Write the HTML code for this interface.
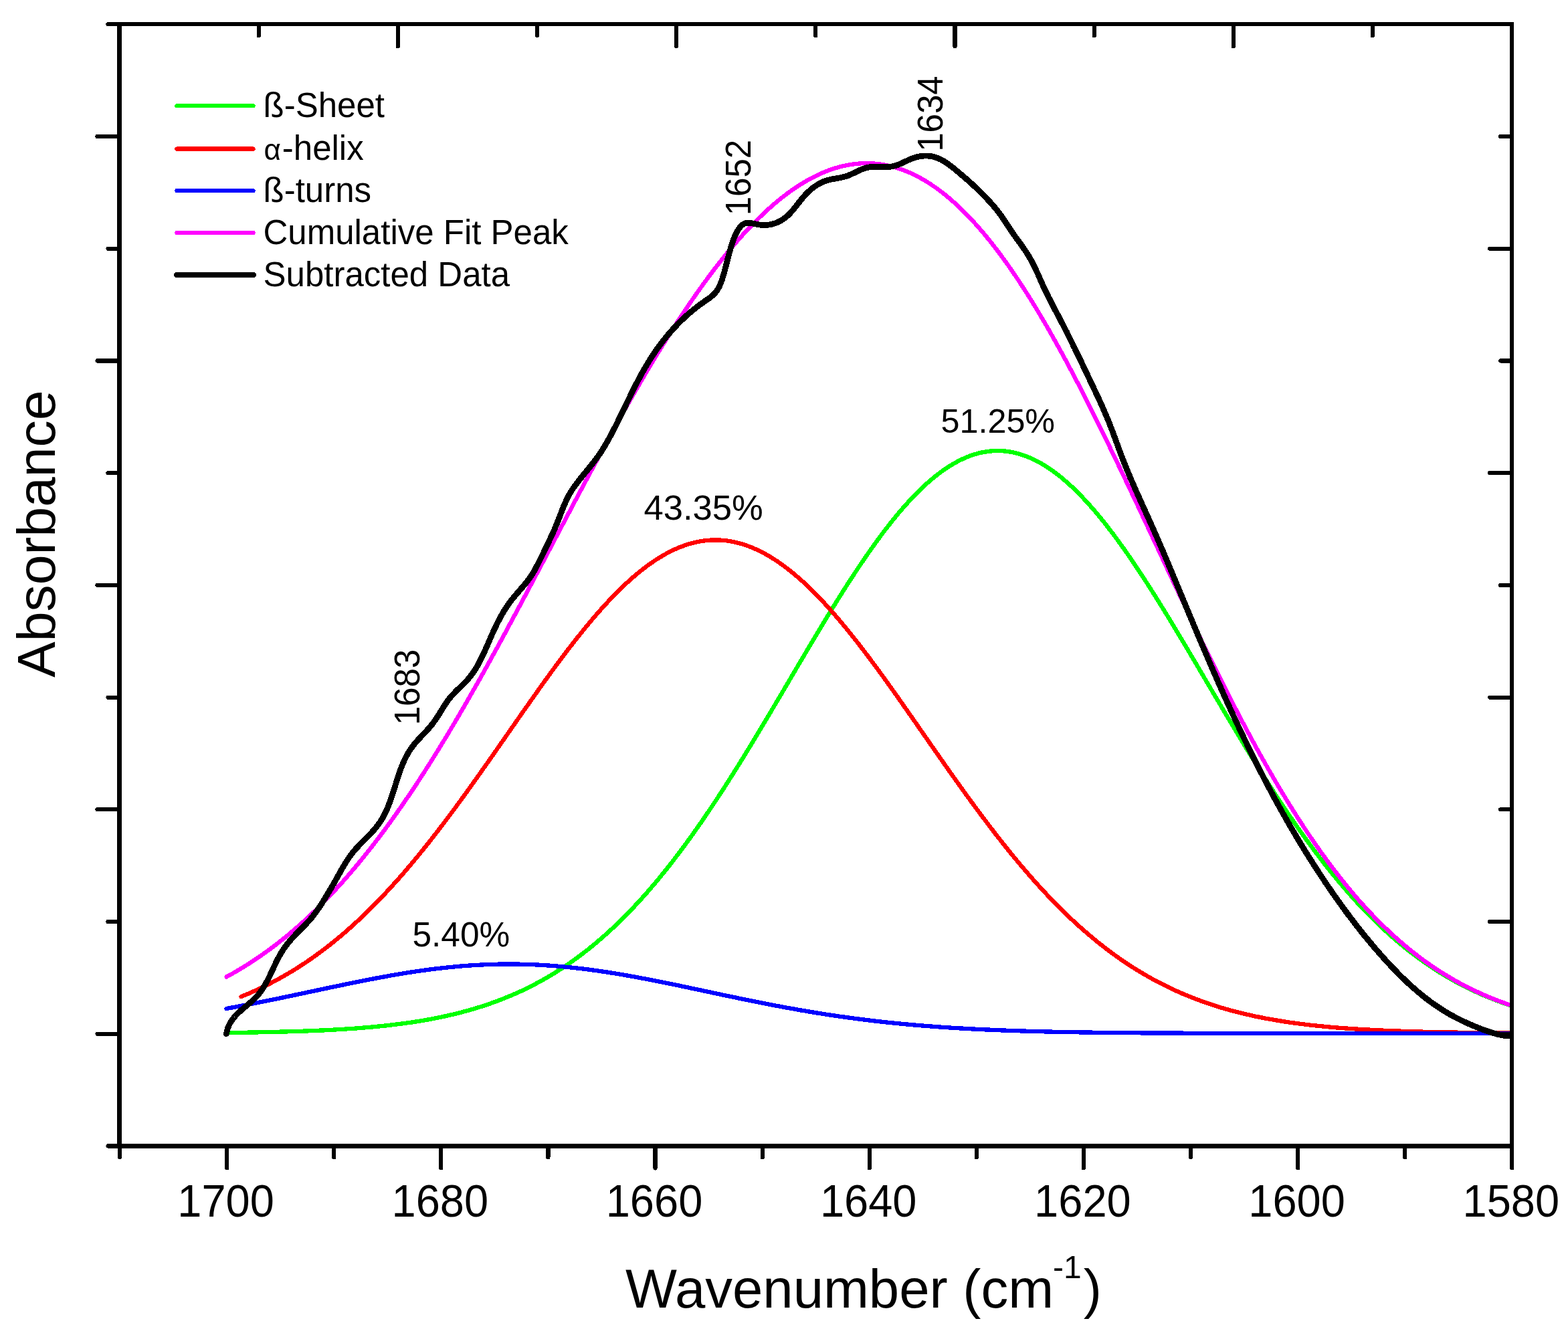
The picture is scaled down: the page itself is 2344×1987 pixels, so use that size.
<!DOCTYPE html>
<html lang="en">
<head>
<meta charset="utf-8">
<title>FTIR amide I band deconvolution</title>
<style>
html,body{margin:0;padding:0;background:#fff;}
body{width:2344px;height:1987px;overflow:hidden;}
svg{display:block;}
line,path,rect{shape-rendering:crispEdges;}
text{font-family:"Liberation Sans",sans-serif;fill:#000;}
.ax{stroke:#000;stroke-width:6.2;fill:none;stroke-linecap:butt;}
.tk{stroke:#000;stroke-width:6.2;fill:none;stroke-linecap:round;}
.c{fill:none;stroke-linejoin:round;stroke-linecap:round;}
</style>
</head>
<body>
<svg width="2344" height="1987" viewBox="0 0 2344 1987">
<rect x="0" y="0" width="2344" height="1987" fill="#fff"/>
<g class="c" id="curves">
<path id="cg" d="M340.0,1544.0 L344.0,1544.0 L348.0,1543.9 L352.0,1543.9 L356.0,1543.8 L360.0,1543.8 L364.0,1543.7 L368.0,1543.7 L372.0,1543.6 L376.0,1543.5 L380.0,1543.5 L384.0,1543.4 L388.0,1543.3 L392.0,1543.3 L396.0,1543.2 L400.0,1543.1 L404.0,1543.0 L408.0,1542.9 L412.0,1542.8 L416.0,1542.7 L420.0,1542.6 L424.0,1542.5 L428.0,1542.4 L432.0,1542.3 L436.0,1542.2 L440.0,1542.1 L444.0,1541.9 L448.0,1541.8 L452.0,1541.7 L456.0,1541.5 L460.0,1541.4 L464.0,1541.2 L468.0,1541.1 L472.0,1540.9 L476.0,1540.7 L480.0,1540.5 L484.0,1540.4 L488.0,1540.2 L492.0,1540.0 L496.0,1539.8 L500.0,1539.5 L504.0,1539.3 L508.0,1539.1 L512.0,1538.8 L516.0,1538.6 L520.0,1538.3 L524.0,1538.0 L528.0,1537.8 L532.0,1537.5 L536.0,1537.2 L540.0,1536.9 L544.0,1536.5 L548.0,1536.2 L552.0,1535.8 L556.0,1535.5 L560.0,1535.1 L564.0,1534.7 L568.0,1534.3 L572.0,1533.9 L576.0,1533.5 L580.0,1533.1 L584.0,1532.6 L588.0,1532.1 L592.0,1531.6 L596.0,1531.1 L600.0,1530.6 L604.0,1530.1 L608.0,1529.5 L612.0,1528.9 L616.0,1528.4 L620.0,1527.7 L624.0,1527.1 L628.0,1526.5 L632.0,1525.8 L636.0,1525.1 L640.0,1524.4 L644.0,1523.7 L648.0,1522.9 L652.0,1522.1 L656.0,1521.3 L660.0,1520.5 L664.0,1519.6 L668.0,1518.8 L672.0,1517.8 L676.0,1516.9 L680.0,1516.0 L684.0,1515.0 L688.0,1514.0 L692.0,1512.9 L696.0,1511.8 L700.0,1510.7 L704.0,1509.6 L708.0,1508.4 L712.0,1507.2 L716.0,1506.0 L720.0,1504.7 L724.0,1503.4 L728.0,1502.1 L732.0,1500.7 L736.0,1499.3 L740.0,1497.9 L744.0,1496.4 L748.0,1494.9 L752.0,1493.3 L756.0,1491.7 L760.0,1490.1 L764.0,1488.4 L768.0,1486.7 L772.0,1484.9 L776.0,1483.1 L780.0,1481.3 L784.0,1479.4 L788.0,1477.4 L792.0,1475.4 L796.0,1473.4 L800.0,1471.3 L804.0,1469.2 L808.0,1467.0 L812.0,1464.8 L816.0,1462.5 L820.0,1460.2 L824.0,1457.8 L828.0,1455.4 L832.0,1452.9 L836.0,1450.3 L840.0,1447.8 L844.0,1445.1 L848.0,1442.4 L852.0,1439.7 L856.0,1436.8 L860.0,1434.0 L864.0,1431.0 L868.0,1428.1 L872.0,1425.0 L876.0,1421.9 L880.0,1418.8 L884.0,1415.5 L888.0,1412.3 L892.0,1408.9 L896.0,1405.5 L900.0,1402.1 L904.0,1398.5 L908.0,1394.9 L912.0,1391.3 L916.0,1387.6 L920.0,1383.8 L924.0,1380.0 L928.0,1376.1 L932.0,1372.1 L936.0,1368.1 L940.0,1364.0 L944.0,1359.8 L948.0,1355.6 L952.0,1351.3 L956.0,1346.9 L960.0,1342.5 L964.0,1338.1 L968.0,1333.5 L972.0,1328.9 L976.0,1324.2 L980.0,1319.5 L984.0,1314.7 L988.0,1309.8 L992.0,1304.9 L996.0,1299.9 L1000.0,1294.9 L1004.0,1289.8 L1008.0,1284.6 L1012.0,1279.3 L1016.0,1274.1 L1020.0,1268.7 L1024.0,1263.3 L1028.0,1257.8 L1032.0,1252.3 L1036.0,1246.7 L1040.0,1241.0 L1044.0,1235.3 L1048.0,1229.6 L1052.0,1223.8 L1056.0,1217.9 L1060.0,1212.0 L1064.0,1206.0 L1068.0,1200.0 L1072.0,1194.0 L1076.0,1187.9 L1080.0,1181.7 L1084.0,1175.5 L1088.0,1169.3 L1092.0,1163.0 L1096.0,1156.6 L1100.0,1150.3 L1104.0,1143.9 L1108.0,1137.4 L1112.0,1131.0 L1116.0,1124.4 L1120.0,1117.9 L1124.0,1111.3 L1128.0,1104.7 L1132.0,1098.1 L1136.0,1091.4 L1140.0,1084.8 L1144.0,1078.1 L1148.0,1071.4 L1152.0,1064.6 L1156.0,1057.9 L1160.0,1051.1 L1164.0,1044.4 L1168.0,1037.6 L1172.0,1030.8 L1176.0,1024.0 L1180.0,1017.2 L1184.0,1010.4 L1188.0,1003.6 L1192.0,996.8 L1196.0,990.0 L1200.0,983.3 L1204.0,976.5 L1208.0,969.8 L1212.0,963.0 L1216.0,956.3 L1220.0,949.6 L1224.0,943.0 L1228.0,936.3 L1232.0,929.7 L1236.0,923.1 L1240.0,916.6 L1244.0,910.1 L1248.0,903.6 L1252.0,897.2 L1256.0,890.8 L1260.0,884.4 L1264.0,878.1 L1268.0,871.9 L1272.0,865.7 L1276.0,859.6 L1280.0,853.5 L1284.0,847.5 L1288.0,841.6 L1292.0,835.7 L1296.0,829.9 L1300.0,824.1 L1304.0,818.5 L1308.0,812.9 L1312.0,807.4 L1316.0,801.9 L1320.0,796.6 L1324.0,791.3 L1328.0,786.2 L1332.0,781.1 L1336.0,776.1 L1340.0,771.2 L1344.0,766.4 L1348.0,761.7 L1352.0,757.1 L1356.0,752.6 L1360.0,748.3 L1364.0,744.0 L1368.0,739.8 L1372.0,735.8 L1376.0,731.8 L1380.0,728.0 L1384.0,724.3 L1388.0,720.7 L1392.0,717.3 L1396.0,713.9 L1400.0,710.7 L1404.0,707.6 L1408.0,704.7 L1412.0,701.9 L1416.0,699.2 L1420.0,696.6 L1424.0,694.2 L1428.0,691.9 L1432.0,689.7 L1436.0,687.7 L1440.0,685.8 L1444.0,684.0 L1448.0,682.4 L1452.0,680.9 L1456.0,679.6 L1460.0,678.4 L1464.0,677.3 L1468.0,676.4 L1472.0,675.7 L1476.0,675.1 L1480.0,674.6 L1484.0,674.2 L1488.0,674.0 L1492.0,674.0 L1496.0,674.1 L1500.0,674.3 L1504.0,674.7 L1508.0,675.3 L1512.0,675.9 L1516.0,676.7 L1520.0,677.7 L1524.0,678.8 L1528.0,680.0 L1532.0,681.4 L1536.0,682.9 L1540.0,684.6 L1544.0,686.4 L1548.0,688.4 L1552.0,690.4 L1556.0,692.6 L1560.0,695.0 L1564.0,697.5 L1568.0,700.1 L1572.0,702.8 L1576.0,705.7 L1580.0,708.7 L1584.0,711.8 L1588.0,715.1 L1592.0,718.5 L1596.0,722.0 L1600.0,725.6 L1604.0,729.3 L1608.0,733.2 L1612.0,737.2 L1616.0,741.3 L1620.0,745.5 L1624.0,749.8 L1628.0,754.2 L1632.0,758.7 L1636.0,763.3 L1640.0,768.1 L1644.0,772.9 L1648.0,777.8 L1652.0,782.8 L1656.0,788.0 L1660.0,793.2 L1664.0,798.4 L1668.0,803.8 L1672.0,809.3 L1676.0,814.8 L1680.0,820.4 L1684.0,826.1 L1688.0,831.9 L1692.0,837.7 L1696.0,843.6 L1700.0,849.6 L1704.0,855.6 L1708.0,861.7 L1712.0,867.9 L1716.0,874.1 L1720.0,880.3 L1724.0,886.7 L1728.0,893.0 L1732.0,899.4 L1736.0,905.9 L1740.0,912.3 L1744.0,918.9 L1748.0,925.4 L1752.0,932.0 L1756.0,938.6 L1760.0,945.3 L1764.0,952.0 L1768.0,958.7 L1772.0,965.4 L1776.0,972.1 L1780.0,978.9 L1784.0,985.6 L1788.0,992.4 L1792.0,999.2 L1796.0,1006.0 L1800.0,1012.8 L1804.0,1019.6 L1808.0,1026.4 L1812.0,1033.2 L1816.0,1039.9 L1820.0,1046.7 L1824.0,1053.5 L1828.0,1060.2 L1832.0,1067.0 L1836.0,1073.7 L1840.0,1080.4 L1844.0,1087.1 L1848.0,1093.8 L1852.0,1100.4 L1856.0,1107.0 L1860.0,1113.6 L1864.0,1120.2 L1868.0,1126.7 L1872.0,1133.2 L1876.0,1139.7 L1880.0,1146.1 L1884.0,1152.5 L1888.0,1158.9 L1892.0,1165.2 L1896.0,1171.5 L1900.0,1177.7 L1904.0,1183.9 L1908.0,1190.0 L1912.0,1196.1 L1916.0,1202.1 L1920.0,1208.1 L1924.0,1214.1 L1928.0,1220.0 L1932.0,1225.8 L1936.0,1231.6 L1940.0,1237.4 L1944.0,1243.0 L1948.0,1248.7 L1952.0,1254.2 L1956.0,1259.7 L1960.0,1265.2 L1964.0,1270.6 L1968.0,1275.9 L1972.0,1281.2 L1976.0,1286.4 L1980.0,1291.6 L1984.0,1296.6 L1988.0,1301.7 L1992.0,1306.6 L1996.0,1311.5 L2000.0,1316.4 L2004.0,1321.2 L2008.0,1325.9 L2012.0,1330.5 L2016.0,1335.1 L2020.0,1339.6 L2024.0,1344.1 L2028.0,1348.5 L2032.0,1352.8 L2036.0,1357.1 L2040.0,1361.3 L2044.0,1365.4 L2048.0,1369.5 L2052.0,1373.5 L2056.0,1377.4 L2060.0,1381.3 L2064.0,1385.1 L2068.0,1388.9 L2072.0,1392.6 L2076.0,1396.2 L2080.0,1399.8 L2084.0,1403.3 L2088.0,1406.7 L2092.0,1410.1 L2096.0,1413.4 L2100.0,1416.7 L2104.0,1419.9 L2108.0,1423.0 L2112.0,1426.1 L2116.0,1429.1 L2120.0,1432.1 L2124.0,1435.0 L2128.0,1437.8 L2132.0,1440.6 L2136.0,1443.4 L2140.0,1446.0 L2144.0,1448.7 L2148.0,1451.2 L2152.0,1453.8 L2156.0,1456.2 L2160.0,1458.6 L2164.0,1461.0 L2168.0,1463.3 L2172.0,1465.6 L2176.0,1467.8 L2180.0,1469.9 L2184.0,1472.1 L2188.0,1474.1 L2192.0,1476.1 L2196.0,1478.1 L2200.0,1480.0 L2204.0,1481.9 L2208.0,1483.7 L2212.0,1485.5 L2216.0,1487.3 L2220.0,1489.0 L2224.0,1490.7 L2228.0,1492.3 L2232.0,1493.9 L2236.0,1495.4 L2240.0,1496.9 L2244.0,1498.4 L2248.0,1499.8 L2252.0,1501.2 L2255.8,1502.5" stroke="#00ff00" stroke-width="6.3"/>
<path id="cr" d="M360.4,1490.2 L364.4,1488.5 L368.4,1486.9 L372.4,1485.2 L376.4,1483.4 L380.4,1481.7 L384.4,1479.8 L388.4,1478.0 L392.4,1476.1 L396.4,1474.1 L400.4,1472.1 L404.4,1470.1 L408.4,1468.0 L412.4,1465.9 L416.4,1463.7 L420.4,1461.5 L424.4,1459.2 L428.4,1456.9 L432.4,1454.5 L436.4,1452.1 L440.4,1449.7 L444.4,1447.2 L448.4,1444.6 L452.4,1442.0 L456.4,1439.4 L460.4,1436.7 L464.4,1433.9 L468.4,1431.1 L472.4,1428.2 L476.4,1425.3 L480.4,1422.4 L484.4,1419.4 L488.4,1416.3 L492.4,1413.2 L496.4,1410.0 L500.4,1406.8 L504.4,1403.5 L508.4,1400.2 L512.4,1396.8 L516.4,1393.3 L520.4,1389.8 L524.4,1386.3 L528.4,1382.7 L532.4,1379.0 L536.4,1375.3 L540.4,1371.6 L544.4,1367.7 L548.4,1363.9 L552.4,1359.9 L556.4,1355.9 L560.4,1351.9 L564.4,1347.8 L568.4,1343.7 L572.4,1339.5 L576.4,1335.2 L580.4,1330.9 L584.4,1326.5 L588.4,1322.1 L592.4,1317.7 L596.4,1313.2 L600.4,1308.6 L604.4,1304.0 L608.4,1299.3 L612.4,1294.6 L616.4,1289.9 L620.4,1285.1 L624.4,1280.2 L628.4,1275.3 L632.4,1270.4 L636.4,1265.4 L640.4,1260.4 L644.4,1255.3 L648.4,1250.2 L652.4,1245.0 L656.4,1239.8 L660.4,1234.6 L664.4,1229.3 L668.4,1224.0 L672.4,1218.7 L676.4,1213.3 L680.4,1207.9 L684.4,1202.4 L688.4,1197.0 L692.4,1191.5 L696.4,1185.9 L700.4,1180.4 L704.4,1174.8 L708.4,1169.2 L712.4,1163.6 L716.4,1157.9 L720.4,1152.3 L724.4,1146.6 L728.4,1140.9 L732.4,1135.2 L736.4,1129.5 L740.4,1123.8 L744.4,1118.0 L748.4,1112.3 L752.4,1106.5 L756.4,1100.8 L760.4,1095.0 L764.4,1089.3 L768.4,1083.5 L772.4,1077.8 L776.4,1072.0 L780.4,1066.3 L784.4,1060.6 L788.4,1054.9 L792.4,1049.2 L796.4,1043.5 L800.4,1037.9 L804.4,1032.2 L808.4,1026.6 L812.4,1021.0 L816.4,1015.5 L820.4,1009.9 L824.4,1004.4 L828.4,999.0 L832.4,993.5 L836.4,988.2 L840.4,982.8 L844.4,977.5 L848.4,972.2 L852.4,967.0 L856.4,961.9 L860.4,956.7 L864.4,951.7 L868.4,946.7 L872.4,941.7 L876.4,936.8 L880.4,932.0 L884.4,927.2 L888.4,922.5 L892.4,917.9 L896.4,913.3 L900.4,908.9 L904.4,904.4 L908.4,900.1 L912.4,895.9 L916.4,891.7 L920.4,887.6 L924.4,883.6 L928.4,879.6 L932.4,875.8 L936.4,872.0 L940.4,868.4 L944.4,864.8 L948.4,861.3 L952.4,858.0 L956.4,854.7 L960.4,851.5 L964.4,848.4 L968.4,845.4 L972.4,842.6 L976.4,839.8 L980.4,837.1 L984.4,834.6 L988.4,832.1 L992.4,829.8 L996.4,827.5 L1000.4,825.4 L1004.4,823.4 L1008.4,821.5 L1012.4,819.8 L1016.4,818.1 L1020.4,816.6 L1024.4,815.1 L1028.4,813.8 L1032.4,812.7 L1036.4,811.6 L1040.4,810.6 L1044.4,809.8 L1048.4,809.1 L1052.4,808.5 L1056.4,808.1 L1060.4,807.7 L1064.4,807.5 L1068.4,807.4 L1072.4,807.4 L1076.4,807.6 L1080.4,807.8 L1084.4,808.2 L1088.4,808.7 L1092.4,809.4 L1096.4,810.1 L1100.4,811.0 L1104.4,812.0 L1108.4,813.1 L1112.4,814.4 L1116.4,815.7 L1120.4,817.2 L1124.4,818.8 L1128.4,820.5 L1132.4,822.3 L1136.4,824.2 L1140.4,826.3 L1144.4,828.4 L1148.4,830.7 L1152.4,833.1 L1156.4,835.6 L1160.4,838.2 L1164.4,840.9 L1168.4,843.7 L1172.4,846.6 L1176.4,849.6 L1180.4,852.8 L1184.4,856.0 L1188.4,859.3 L1192.4,862.7 L1196.4,866.2 L1200.4,869.8 L1204.4,873.5 L1208.4,877.3 L1212.4,881.2 L1216.4,885.2 L1220.4,889.2 L1224.4,893.3 L1228.4,897.5 L1232.4,901.8 L1236.4,906.2 L1240.4,910.6 L1244.4,915.2 L1248.4,919.8 L1252.4,924.4 L1256.4,929.1 L1260.4,933.9 L1264.4,938.8 L1268.4,943.7 L1272.4,948.7 L1276.4,953.7 L1280.4,958.8 L1284.4,963.9 L1288.4,969.1 L1292.4,974.3 L1296.4,979.6 L1300.4,984.9 L1304.4,990.3 L1308.4,995.7 L1312.4,1001.1 L1316.4,1006.6 L1320.4,1012.1 L1324.4,1017.7 L1328.4,1023.2 L1332.4,1028.8 L1336.4,1034.5 L1340.4,1040.1 L1344.4,1045.8 L1348.4,1051.5 L1352.4,1057.2 L1356.4,1062.9 L1360.4,1068.6 L1364.4,1074.3 L1368.4,1080.1 L1372.4,1085.8 L1376.4,1091.6 L1380.4,1097.3 L1384.4,1103.1 L1388.4,1108.8 L1392.4,1114.6 L1396.4,1120.3 L1400.4,1126.0 L1404.4,1131.8 L1408.4,1137.5 L1412.4,1143.2 L1416.4,1148.9 L1420.4,1154.6 L1424.4,1160.2 L1428.4,1165.8 L1432.4,1171.5 L1436.4,1177.0 L1440.4,1182.6 L1444.4,1188.2 L1448.4,1193.7 L1452.4,1199.2 L1456.4,1204.6 L1460.4,1210.1 L1464.4,1215.4 L1468.4,1220.8 L1472.4,1226.1 L1476.4,1231.4 L1480.4,1236.7 L1484.4,1241.9 L1488.4,1247.1 L1492.4,1252.2 L1496.4,1257.3 L1500.4,1262.4 L1504.4,1267.4 L1508.4,1272.4 L1512.4,1277.3 L1516.4,1282.2 L1520.4,1287.0 L1524.4,1291.8 L1528.4,1296.5 L1532.4,1301.2 L1536.4,1305.8 L1540.4,1310.4 L1544.4,1315.0 L1548.4,1319.5 L1552.4,1323.9 L1556.4,1328.3 L1560.4,1332.6 L1564.4,1336.9 L1568.4,1341.1 L1572.4,1345.3 L1576.4,1349.4 L1580.4,1353.5 L1584.4,1357.5 L1588.4,1361.5 L1592.4,1365.4 L1596.4,1369.3 L1600.4,1373.1 L1604.4,1376.8 L1608.4,1380.5 L1612.4,1384.1 L1616.4,1387.7 L1620.4,1391.2 L1624.4,1394.7 L1628.4,1398.1 L1632.4,1401.5 L1636.4,1404.8 L1640.4,1408.1 L1644.4,1411.3 L1648.4,1414.4 L1652.4,1417.5 L1656.4,1420.6 L1660.4,1423.6 L1664.4,1426.5 L1668.4,1429.4 L1672.4,1432.2 L1676.4,1435.0 L1680.4,1437.7 L1684.4,1440.4 L1688.4,1443.1 L1692.4,1445.6 L1696.4,1448.2 L1700.4,1450.7 L1704.4,1453.1 L1708.4,1455.5 L1712.4,1457.8 L1716.4,1460.1 L1720.4,1462.4 L1724.4,1464.6 L1728.4,1466.7 L1732.4,1468.8 L1736.4,1470.9 L1740.4,1472.9 L1744.4,1474.9 L1748.4,1476.8 L1752.4,1478.7 L1756.4,1480.6 L1760.4,1482.4 L1764.4,1484.1 L1768.4,1485.9 L1772.4,1487.6 L1776.4,1489.2 L1780.4,1490.8 L1784.4,1492.4 L1788.4,1493.9 L1792.4,1495.4 L1796.4,1496.9 L1800.4,1498.3 L1804.4,1499.7 L1808.4,1501.1 L1812.4,1502.4 L1816.4,1503.7 L1820.4,1504.9 L1824.4,1506.2 L1828.4,1507.4 L1832.4,1508.5 L1836.4,1509.7 L1840.4,1510.8 L1844.4,1511.8 L1848.4,1512.9 L1852.4,1513.9 L1856.4,1514.9 L1860.4,1515.9 L1864.4,1516.8 L1868.4,1517.7 L1872.4,1518.6 L1876.4,1519.5 L1880.4,1520.3 L1884.4,1521.1 L1888.4,1521.9 L1892.4,1522.7 L1896.4,1523.4 L1900.4,1524.1 L1904.4,1524.8 L1908.4,1525.5 L1912.4,1526.2 L1916.4,1526.8 L1920.4,1527.5 L1924.4,1528.1 L1928.4,1528.7 L1932.4,1529.2 L1936.4,1529.8 L1940.4,1530.3 L1944.4,1530.8 L1948.4,1531.3 L1952.4,1531.8 L1956.4,1532.3 L1960.4,1532.8 L1964.4,1533.2 L1968.4,1533.6 L1972.4,1534.0 L1976.4,1534.4 L1980.4,1534.8 L1984.4,1535.2 L1988.4,1535.6 L1992.4,1535.9 L1996.4,1536.3 L2000.4,1536.6 L2004.4,1536.9 L2008.4,1537.2 L2012.4,1537.5 L2016.4,1537.8 L2020.4,1538.1 L2024.4,1538.3 L2028.4,1538.6 L2032.4,1538.8 L2036.4,1539.1 L2040.4,1539.3 L2044.4,1539.5 L2048.4,1539.7 L2052.4,1539.9 L2056.4,1540.1 L2060.4,1540.3 L2064.4,1540.5 L2068.4,1540.7 L2072.4,1540.9 L2076.4,1541.0 L2080.4,1541.2 L2084.4,1541.4 L2088.4,1541.5 L2092.4,1541.6 L2096.4,1541.8 L2100.4,1541.9 L2104.4,1542.0 L2108.4,1542.2 L2112.4,1542.3 L2116.4,1542.4 L2120.4,1542.5 L2124.4,1542.6 L2128.4,1542.7 L2132.4,1542.8 L2136.4,1542.9 L2140.4,1543.0 L2144.4,1543.1 L2148.4,1543.2 L2152.4,1543.2 L2156.4,1543.3 L2160.4,1543.4 L2164.4,1543.4 L2168.4,1543.5 L2172.4,1543.6 L2176.4,1543.6 L2180.4,1543.7 L2184.4,1543.8 L2188.4,1543.8 L2192.4,1543.9 L2196.4,1543.9 L2200.4,1544.0 L2204.4,1544.0 L2208.4,1544.0 L2212.4,1544.1 L2216.4,1544.1 L2220.4,1544.2 L2224.4,1544.2 L2228.4,1544.2 L2232.4,1544.3 L2236.4,1544.3 L2240.4,1544.3 L2244.4,1544.4 L2248.4,1544.4 L2252.4,1544.4 L2255.8,1544.4" stroke="#ff0000" stroke-width="6.3"/>
<path id="cb" d="M338.6,1508.0 L342.6,1507.2 L346.6,1506.5 L350.6,1505.8 L354.6,1505.0 L358.6,1504.3 L362.6,1503.5 L366.6,1502.8 L370.6,1502.0 L374.6,1501.2 L378.6,1500.4 L382.6,1499.6 L386.6,1498.8 L390.6,1498.0 L394.6,1497.2 L398.6,1496.4 L402.6,1495.6 L406.6,1494.8 L410.6,1494.0 L414.6,1493.2 L418.6,1492.3 L422.6,1491.5 L426.6,1490.7 L430.6,1489.8 L434.6,1489.0 L438.6,1488.1 L442.6,1487.3 L446.6,1486.4 L450.6,1485.6 L454.6,1484.7 L458.6,1483.9 L462.6,1483.0 L466.6,1482.2 L470.6,1481.3 L474.6,1480.5 L478.6,1479.6 L482.6,1478.8 L486.6,1477.9 L490.6,1477.1 L494.6,1476.2 L498.6,1475.4 L502.6,1474.6 L506.6,1473.7 L510.6,1472.9 L514.6,1472.1 L518.6,1471.2 L522.6,1470.4 L526.6,1469.6 L530.6,1468.8 L534.6,1468.0 L538.6,1467.2 L542.6,1466.4 L546.6,1465.6 L550.6,1464.8 L554.6,1464.0 L558.6,1463.3 L562.6,1462.5 L566.6,1461.8 L570.6,1461.0 L574.6,1460.3 L578.6,1459.6 L582.6,1458.8 L586.6,1458.1 L590.6,1457.4 L594.6,1456.8 L598.6,1456.1 L602.6,1455.4 L606.6,1454.8 L610.6,1454.1 L614.6,1453.5 L618.6,1452.9 L622.6,1452.3 L626.6,1451.7 L630.6,1451.2 L634.6,1450.6 L638.6,1450.1 L642.6,1449.5 L646.6,1449.0 L650.6,1448.5 L654.6,1448.0 L658.6,1447.6 L662.6,1447.1 L666.6,1446.7 L670.6,1446.3 L674.6,1445.9 L678.6,1445.5 L682.6,1445.1 L686.6,1444.7 L690.6,1444.4 L694.6,1444.1 L698.6,1443.8 L702.6,1443.5 L706.6,1443.2 L710.6,1443.0 L714.6,1442.8 L718.6,1442.6 L722.6,1442.4 L726.6,1442.2 L730.6,1442.0 L734.6,1441.9 L738.6,1441.8 L742.6,1441.7 L746.6,1441.6 L750.6,1441.6 L754.6,1441.5 L758.6,1441.5 L762.6,1441.5 L766.6,1441.5 L770.6,1441.6 L774.6,1441.6 L778.6,1441.7 L782.6,1441.8 L786.6,1441.9 L790.6,1442.0 L794.6,1442.2 L798.6,1442.3 L802.6,1442.5 L806.6,1442.7 L810.6,1443.0 L814.6,1443.2 L818.6,1443.5 L822.6,1443.7 L826.6,1444.0 L830.6,1444.3 L834.6,1444.7 L838.6,1445.0 L842.6,1445.4 L846.6,1445.8 L850.6,1446.2 L854.6,1446.6 L858.6,1447.0 L862.6,1447.5 L866.6,1447.9 L870.6,1448.4 L874.6,1448.9 L878.6,1449.4 L882.6,1450.0 L886.6,1450.5 L890.6,1451.0 L894.6,1451.6 L898.6,1452.2 L902.6,1452.8 L906.6,1453.4 L910.6,1454.0 L914.6,1454.7 L918.6,1455.3 L922.6,1456.0 L926.6,1456.6 L930.6,1457.3 L934.6,1458.0 L938.6,1458.7 L942.6,1459.4 L946.6,1460.1 L950.6,1460.9 L954.6,1461.6 L958.6,1462.4 L962.6,1463.1 L966.6,1463.9 L970.6,1464.6 L974.6,1465.4 L978.6,1466.2 L982.6,1467.0 L986.6,1467.8 L990.6,1468.6 L994.6,1469.4 L998.6,1470.2 L1002.6,1471.1 L1006.6,1471.9 L1010.6,1472.7 L1014.6,1473.5 L1018.6,1474.4 L1022.6,1475.2 L1026.6,1476.1 L1030.6,1476.9 L1034.6,1477.8 L1038.6,1478.6 L1042.6,1479.5 L1046.6,1480.3 L1050.6,1481.2 L1054.6,1482.0 L1058.6,1482.9 L1062.6,1483.7 L1066.6,1484.6 L1070.6,1485.4 L1074.6,1486.3 L1078.6,1487.1 L1082.6,1488.0 L1086.6,1488.8 L1090.6,1489.6 L1094.6,1490.5 L1098.6,1491.3 L1102.6,1492.2 L1106.6,1493.0 L1110.6,1493.8 L1114.6,1494.6 L1118.6,1495.5 L1122.6,1496.3 L1126.6,1497.1 L1130.6,1497.9 L1134.6,1498.7 L1138.6,1499.5 L1142.6,1500.3 L1146.6,1501.1 L1150.6,1501.8 L1154.6,1502.6 L1158.6,1503.4 L1162.6,1504.1 L1166.6,1504.9 L1170.6,1505.6 L1174.6,1506.4 L1178.6,1507.1 L1182.6,1507.8 L1186.6,1508.5 L1190.6,1509.3 L1194.6,1510.0 L1198.6,1510.7 L1202.6,1511.3 L1206.6,1512.0 L1210.6,1512.7 L1214.6,1513.4 L1218.6,1514.0 L1222.6,1514.7 L1226.6,1515.3 L1230.6,1515.9 L1234.6,1516.6 L1238.6,1517.2 L1242.6,1517.8 L1246.6,1518.4 L1250.6,1519.0 L1254.6,1519.6 L1258.6,1520.1 L1262.6,1520.7 L1266.6,1521.3 L1270.6,1521.8 L1274.6,1522.3 L1278.6,1522.9 L1282.6,1523.4 L1286.6,1523.9 L1290.6,1524.4 L1294.6,1524.9 L1298.6,1525.4 L1302.6,1525.9 L1306.6,1526.4 L1310.6,1526.8 L1314.6,1527.3 L1318.6,1527.7 L1322.6,1528.2 L1326.6,1528.6 L1330.6,1529.0 L1334.6,1529.4 L1338.6,1529.8 L1342.6,1530.2 L1346.6,1530.6 L1350.6,1531.0 L1354.6,1531.4 L1358.6,1531.7 L1362.6,1532.1 L1366.6,1532.5 L1370.6,1532.8 L1374.6,1533.1 L1378.6,1533.5 L1382.6,1533.8 L1386.6,1534.1 L1390.6,1534.4 L1394.6,1534.7 L1398.6,1535.0 L1402.6,1535.3 L1406.6,1535.6 L1410.6,1535.9 L1414.6,1536.1 L1418.6,1536.4 L1422.6,1536.7 L1426.6,1536.9 L1430.6,1537.1 L1434.6,1537.4 L1438.6,1537.6 L1442.6,1537.8 L1446.6,1538.1 L1450.6,1538.3 L1454.6,1538.5 L1458.6,1538.7 L1462.6,1538.9 L1466.6,1539.1 L1470.6,1539.3 L1474.6,1539.5 L1478.6,1539.6 L1482.6,1539.8 L1486.6,1540.0 L1490.6,1540.1 L1494.6,1540.3 L1498.6,1540.5 L1502.6,1540.6 L1506.6,1540.8 L1510.6,1540.9 L1514.6,1541.0 L1518.6,1541.2 L1522.6,1541.3 L1526.6,1541.4 L1530.6,1541.5 L1534.6,1541.7 L1538.6,1541.8 L1542.6,1541.9 L1546.6,1542.0 L1550.6,1542.1 L1554.6,1542.2 L1558.6,1542.3 L1562.6,1542.4 L1566.6,1542.5 L1570.6,1542.6 L1574.6,1542.7 L1578.6,1542.8 L1582.6,1542.8 L1586.6,1542.9 L1590.6,1543.0 L1594.6,1543.1 L1598.6,1543.1 L1602.6,1543.2 L1606.6,1543.3 L1610.6,1543.3 L1614.6,1543.4 L1618.6,1543.5 L1622.6,1543.5 L1626.6,1543.6 L1630.6,1543.6 L1634.6,1543.7 L1638.6,1543.7 L1642.6,1543.8 L1646.6,1543.8 L1650.6,1543.9 L1654.6,1543.9 L1658.6,1544.0 L1662.6,1544.0 L1666.6,1544.0 L1670.6,1544.1 L1674.6,1544.1 L1678.6,1544.1 L1682.6,1544.2 L1686.6,1544.2 L1690.6,1544.2 L1694.6,1544.3 L1698.6,1544.3 L1702.6,1544.3 L1706.6,1544.4 L1710.6,1544.4 L1714.6,1544.4 L1718.6,1544.4 L1722.6,1544.4 L1726.6,1544.5 L1730.6,1544.5 L1734.6,1544.5 L1738.6,1544.5 L1742.6,1544.5 L1746.6,1544.6 L1750.6,1544.6 L1754.6,1544.6 L1758.6,1544.6 L1762.6,1544.6 L1766.6,1544.6 L1770.6,1544.7 L1774.6,1544.7 L1778.6,1544.7 L1782.6,1544.7 L1786.6,1544.7 L1790.6,1544.7 L1794.6,1544.7 L1798.6,1544.7 L1802.6,1544.8 L1806.6,1544.8 L1810.6,1544.8 L1814.6,1544.8 L1818.6,1544.8 L1822.6,1544.8 L1826.6,1544.8 L1830.6,1544.8 L1834.6,1544.8 L1838.6,1544.8 L1842.6,1544.8 L1846.6,1544.8 L1850.6,1544.8 L1854.6,1544.8 L1858.6,1544.9 L1862.6,1544.9 L1866.6,1544.9 L1870.6,1544.9 L1874.6,1544.9 L1878.6,1544.9 L1882.6,1544.9 L1886.6,1544.9 L1890.6,1544.9 L1894.6,1544.9 L1898.6,1544.9 L1902.6,1544.9 L1906.6,1544.9 L1910.6,1544.9 L1914.6,1544.9 L1918.6,1544.9 L1922.6,1544.9 L1926.6,1544.9 L1930.6,1544.9 L1934.6,1544.9 L1938.6,1544.9 L1942.6,1544.9 L1946.6,1544.9 L1950.6,1544.9 L1954.6,1544.9 L1958.6,1544.9 L1962.6,1544.9 L1966.6,1544.9 L1970.6,1544.9 L1974.6,1544.9 L1978.6,1544.9 L1982.6,1544.9 L1986.6,1544.9 L1990.6,1544.9 L1994.6,1544.9 L1998.6,1544.9 L2002.6,1544.9 L2006.6,1544.9 L2010.6,1544.9 L2014.6,1544.9 L2018.6,1544.9 L2022.6,1544.9 L2026.6,1544.9 L2030.6,1544.9 L2034.6,1544.9 L2038.6,1544.9 L2042.6,1544.9 L2046.6,1544.9 L2050.6,1544.9 L2054.6,1544.9 L2058.6,1544.9 L2062.6,1544.9 L2066.6,1544.9 L2070.6,1544.9 L2074.6,1544.9 L2078.6,1544.9 L2082.6,1544.9 L2086.6,1544.9 L2090.6,1544.9 L2094.6,1544.9 L2098.6,1544.9 L2102.6,1544.9 L2106.6,1544.9 L2110.6,1544.9 L2114.6,1544.9 L2118.6,1544.9 L2122.6,1544.9 L2126.6,1544.9 L2130.6,1544.9 L2134.6,1544.9 L2138.6,1544.9 L2142.6,1544.9 L2146.6,1544.9 L2150.6,1544.9 L2154.6,1544.9 L2158.6,1544.9 L2162.6,1544.9 L2166.6,1544.9 L2170.6,1544.9 L2174.6,1544.9 L2178.6,1544.9 L2182.6,1544.9 L2186.6,1544.9 L2190.6,1544.9 L2194.6,1544.9 L2198.6,1544.9 L2202.6,1544.9 L2206.6,1544.9 L2210.6,1544.9 L2214.6,1544.9 L2218.6,1544.9 L2222.6,1544.9 L2226.6,1544.9 L2230.6,1544.9 L2234.6,1544.9 L2238.6,1544.9 L2242.6,1544.9 L2246.6,1544.9 L2250.6,1544.9 L2254.6,1544.9 L2255.8,1544.9" stroke="#0000ff" stroke-width="6.3"/>
<path id="cm" d="M338.6,1460.5 L342.6,1458.3 L346.6,1456.1 L350.6,1453.8 L354.6,1451.4 L358.6,1449.1 L362.6,1446.7 L366.6,1444.2 L370.6,1441.7 L374.6,1439.1 L378.6,1436.5 L382.6,1433.8 L386.6,1431.1 L390.6,1428.4 L394.6,1425.5 L398.6,1422.7 L402.6,1419.8 L406.6,1416.8 L410.6,1413.8 L414.6,1410.7 L418.6,1407.6 L422.6,1404.4 L426.6,1401.2 L430.6,1397.9 L434.6,1394.5 L438.6,1391.1 L442.6,1387.7 L446.6,1384.2 L450.6,1380.6 L454.6,1377.0 L458.6,1373.3 L462.6,1369.6 L466.6,1365.8 L470.6,1361.9 L474.6,1358.0 L478.6,1354.1 L482.6,1350.0 L486.6,1345.9 L490.6,1341.8 L494.6,1337.6 L498.6,1333.3 L502.6,1329.0 L506.6,1324.6 L510.6,1320.2 L514.6,1315.7 L518.6,1311.2 L522.6,1306.5 L526.6,1301.9 L530.6,1297.1 L534.6,1292.3 L538.6,1287.5 L542.6,1282.6 L546.6,1277.6 L550.6,1272.6 L554.6,1267.5 L558.6,1262.3 L562.6,1257.1 L566.6,1251.9 L570.6,1246.5 L574.6,1241.2 L578.6,1235.7 L582.6,1230.2 L586.6,1224.7 L590.6,1219.0 L594.6,1213.4 L598.6,1207.7 L602.6,1201.9 L606.6,1196.0 L610.6,1190.2 L614.6,1184.2 L618.6,1178.2 L622.6,1172.2 L626.6,1166.1 L630.6,1159.9 L634.6,1153.7 L638.6,1147.4 L642.6,1141.1 L646.6,1134.8 L650.6,1128.4 L654.6,1121.9 L658.6,1115.4 L662.6,1108.8 L666.6,1102.3 L670.6,1095.6 L674.6,1088.9 L678.6,1082.2 L682.6,1075.4 L686.6,1068.6 L690.6,1061.7 L694.6,1054.9 L698.6,1047.9 L702.6,1040.9 L706.6,1033.9 L710.6,1026.9 L714.6,1019.8 L718.6,1012.7 L722.6,1005.5 L726.6,998.3 L730.6,991.1 L734.6,983.9 L738.6,976.6 L742.6,969.3 L746.6,962.0 L750.6,954.6 L754.6,947.3 L758.6,939.9 L762.6,932.4 L766.6,925.0 L770.6,917.5 L774.6,910.1 L778.6,902.6 L782.6,895.1 L786.6,887.5 L790.6,880.0 L794.6,872.4 L798.6,864.9 L802.6,857.3 L806.6,849.7 L810.6,842.2 L814.6,834.6 L818.6,827.0 L822.6,819.4 L826.6,811.8 L830.6,804.2 L834.6,796.6 L838.6,789.0 L842.6,781.4 L846.6,773.8 L850.6,766.3 L854.6,758.7 L858.6,751.1 L862.6,743.6 L866.6,736.1 L870.6,728.5 L874.6,721.0 L878.6,713.6 L882.6,706.1 L886.6,698.7 L890.6,691.2 L894.6,683.8 L898.6,676.4 L902.6,669.1 L906.6,661.8 L910.6,654.5 L914.6,647.2 L918.6,639.9 L922.6,632.7 L926.6,625.5 L930.6,618.4 L934.6,611.3 L938.6,604.2 L942.6,597.2 L946.6,590.2 L950.6,583.2 L954.6,576.3 L958.6,569.4 L962.6,562.6 L966.6,555.8 L970.6,549.1 L974.6,542.4 L978.6,535.8 L982.6,529.2 L986.6,522.6 L990.6,516.2 L994.6,509.7 L998.6,503.4 L1002.6,497.0 L1006.6,490.8 L1010.6,484.6 L1014.6,478.4 L1018.6,472.3 L1022.6,466.3 L1026.6,460.3 L1030.6,454.4 L1034.6,448.6 L1038.6,442.8 L1042.6,437.1 L1046.6,431.4 L1050.6,425.9 L1054.6,420.4 L1058.6,414.9 L1062.6,409.5 L1066.6,404.2 L1070.6,399.0 L1074.6,393.9 L1078.6,388.8 L1082.6,383.8 L1086.6,378.9 L1090.6,374.0 L1094.6,369.2 L1098.6,364.5 L1102.6,359.9 L1106.6,355.4 L1110.6,350.9 L1114.6,346.5 L1118.6,342.2 L1122.6,338.0 L1126.6,333.9 L1130.6,329.9 L1134.6,325.9 L1138.6,322.0 L1142.6,318.2 L1146.6,314.5 L1150.6,310.9 L1154.6,307.4 L1158.6,303.9 L1162.6,300.6 L1166.6,297.3 L1170.6,294.2 L1174.6,291.1 L1178.6,288.1 L1182.6,285.2 L1186.6,282.4 L1190.6,279.7 L1194.6,277.1 L1198.6,274.6 L1202.6,272.2 L1206.6,269.8 L1210.6,267.6 L1214.6,265.5 L1218.6,263.5 L1222.6,261.5 L1226.6,259.7 L1230.6,258.0 L1234.6,256.3 L1238.6,254.8 L1242.6,253.4 L1246.6,252.0 L1250.6,250.8 L1254.6,249.7 L1258.6,248.6 L1262.6,247.7 L1266.6,246.9 L1270.6,246.2 L1274.6,245.6 L1278.6,245.1 L1282.6,244.7 L1286.6,244.4 L1290.6,244.2 L1294.6,244.1 L1298.6,244.2 L1302.6,244.3 L1306.6,244.5 L1310.6,244.9 L1314.6,245.4 L1318.6,245.9 L1322.6,246.6 L1326.6,247.4 L1330.6,248.3 L1334.6,249.3 L1338.6,250.4 L1342.6,251.6 L1346.6,253.0 L1350.6,254.4 L1354.6,256.0 L1358.6,257.6 L1362.6,259.4 L1366.6,261.3 L1370.6,263.3 L1374.6,265.4 L1378.6,267.7 L1382.6,270.0 L1386.6,272.4 L1390.6,275.0 L1394.6,277.7 L1398.6,280.4 L1402.6,283.3 L1406.6,286.3 L1410.6,289.4 L1414.6,292.6 L1418.6,296.0 L1422.6,299.4 L1426.6,303.0 L1430.6,306.6 L1434.6,310.4 L1438.6,314.2 L1442.6,318.2 L1446.6,322.3 L1450.6,326.5 L1454.6,330.8 L1458.6,335.2 L1462.6,339.7 L1466.6,344.3 L1470.6,349.0 L1474.6,353.9 L1478.6,358.8 L1482.6,363.8 L1486.6,368.9 L1490.6,374.2 L1494.6,379.5 L1498.6,384.9 L1502.6,390.4 L1506.6,396.0 L1510.6,401.7 L1514.6,407.5 L1518.6,413.4 L1522.6,419.4 L1526.6,425.5 L1530.6,431.7 L1534.6,437.9 L1538.6,444.3 L1542.6,450.7 L1546.6,457.2 L1550.6,463.8 L1554.6,470.5 L1558.6,477.3 L1562.6,484.1 L1566.6,491.0 L1570.6,498.0 L1574.6,505.1 L1578.6,512.2 L1582.6,519.4 L1586.6,526.7 L1590.6,534.0 L1594.6,541.4 L1598.6,548.9 L1602.6,556.5 L1606.6,564.1 L1610.6,571.7 L1614.6,579.4 L1618.6,587.2 L1622.6,595.0 L1626.6,602.9 L1630.6,610.9 L1634.6,618.8 L1638.6,626.9 L1642.6,634.9 L1646.6,643.0 L1650.6,651.2 L1654.6,659.4 L1658.6,667.6 L1662.6,675.9 L1666.6,684.2 L1670.6,692.5 L1674.6,700.8 L1678.6,709.2 L1682.6,717.6 L1686.6,726.1 L1690.6,734.5 L1694.6,743.0 L1698.6,751.4 L1702.6,759.9 L1706.6,768.5 L1710.6,777.0 L1714.6,785.5 L1718.6,794.0 L1722.6,802.6 L1726.6,811.1 L1730.6,819.6 L1734.6,828.2 L1738.6,836.7 L1742.6,845.2 L1746.6,853.8 L1750.6,862.3 L1754.6,870.8 L1758.6,879.2 L1762.6,887.7 L1766.6,896.2 L1770.6,904.6 L1774.6,913.0 L1778.6,921.4 L1782.6,929.8 L1786.6,938.1 L1790.6,946.4 L1794.6,954.7 L1798.6,962.9 L1802.6,971.1 L1806.6,979.3 L1810.6,987.4 L1814.6,995.6 L1818.6,1003.6 L1822.6,1011.6 L1826.6,1019.6 L1830.6,1027.5 L1834.6,1035.4 L1838.6,1043.3 L1842.6,1051.1 L1846.6,1058.8 L1850.6,1066.5 L1854.6,1074.1 L1858.6,1081.7 L1862.6,1089.2 L1866.6,1096.7 L1870.6,1104.1 L1874.6,1111.5 L1878.6,1118.8 L1882.6,1126.0 L1886.6,1133.2 L1890.6,1140.3 L1894.6,1147.3 L1898.6,1154.3 L1902.6,1161.2 L1906.6,1168.1 L1910.6,1174.9 L1914.6,1181.6 L1918.6,1188.2 L1922.6,1194.8 L1926.6,1201.3 L1930.6,1207.8 L1934.6,1214.1 L1938.6,1220.4 L1942.6,1226.7 L1946.6,1232.8 L1950.6,1238.9 L1954.6,1244.9 L1958.6,1250.9 L1962.6,1256.7 L1966.6,1262.5 L1970.6,1268.2 L1974.6,1273.9 L1978.6,1279.4 L1982.6,1284.9 L1986.6,1290.4 L1990.6,1295.7 L1994.6,1301.0 L1998.6,1306.2 L2002.6,1311.3 L2006.6,1316.3 L2010.6,1321.3 L2014.6,1326.2 L2018.6,1331.0 L2022.6,1335.8 L2026.6,1340.5 L2030.6,1345.1 L2034.6,1349.6 L2038.6,1354.0 L2042.6,1358.4 L2046.6,1362.7 L2050.6,1367.0 L2054.6,1371.2 L2058.6,1375.3 L2062.6,1379.3 L2066.6,1383.2 L2070.6,1387.1 L2074.6,1390.9 L2078.6,1394.7 L2082.6,1398.4 L2086.6,1402.0 L2090.6,1405.5 L2094.6,1409.0 L2098.6,1412.4 L2102.6,1415.8 L2106.6,1419.1 L2110.6,1422.3 L2114.6,1425.5 L2118.6,1428.5 L2122.6,1431.6 L2126.6,1434.6 L2130.6,1437.5 L2134.6,1440.3 L2138.6,1443.1 L2142.6,1445.8 L2146.6,1448.5 L2150.6,1451.1 L2154.6,1453.7 L2158.6,1456.2 L2162.6,1458.6 L2166.6,1461.0 L2170.6,1463.4 L2174.6,1465.7 L2178.6,1467.9 L2182.6,1470.1 L2186.6,1472.2 L2190.6,1474.3 L2194.6,1476.4 L2198.6,1478.3 L2202.6,1480.3 L2206.6,1482.2 L2210.6,1484.0 L2214.6,1485.8 L2218.6,1487.6 L2222.6,1489.3 L2226.6,1491.0 L2230.6,1492.6 L2234.6,1494.2 L2238.6,1495.8 L2242.6,1497.3 L2246.6,1498.8 L2250.6,1500.2 L2254.6,1501.6 L2255.8,1502.0" stroke="#ff00ff" stroke-width="6.3"/>
<path id="ck" d="M338.3,1545.6 C338.5,1544.9 338.9,1543.0 339.2,1541.7 C339.6,1540.3 340.0,1538.9 340.4,1537.6 C340.9,1536.3 341.4,1535.0 341.9,1533.8 C342.5,1532.5 343.1,1531.3 343.7,1530.2 C344.3,1529.0 345.0,1527.9 345.7,1526.8 C346.4,1525.7 347.2,1524.6 348.0,1523.6 C348.8,1522.5 349.6,1521.5 350.5,1520.5 C351.3,1519.5 352.2,1518.6 353.1,1517.6 C354.0,1516.7 354.9,1515.7 355.9,1514.8 C356.8,1513.9 357.8,1513.0 358.8,1512.1 C359.7,1511.2 360.7,1510.3 361.8,1509.5 C362.8,1508.6 363.8,1507.7 364.8,1506.9 C365.8,1506.0 366.8,1505.1 367.9,1504.3 C368.9,1503.4 369.9,1502.6 370.9,1501.7 C372.0,1500.8 373.0,1500.0 374.0,1499.1 C375.0,1498.2 376.0,1497.3 377.0,1496.4 C378.0,1495.5 379.0,1494.6 379.9,1493.7 C380.9,1492.8 381.8,1491.8 382.7,1490.9 C383.6,1489.9 384.5,1488.9 385.4,1487.9 C386.3,1486.9 387.1,1485.9 387.9,1484.8 C388.7,1483.8 389.5,1482.7 390.3,1481.6 C391.1,1480.6 391.8,1479.5 392.6,1478.3 C393.3,1477.2 394.0,1476.1 394.7,1475.0 C395.4,1473.8 396.1,1472.7 396.7,1471.5 C397.4,1470.3 398.1,1469.2 398.7,1468.0 C399.3,1466.8 400.0,1465.6 400.6,1464.4 C401.2,1463.2 401.8,1462.0 402.4,1460.8 C403.0,1459.6 403.6,1458.4 404.1,1457.2 C404.7,1455.9 405.3,1454.7 405.9,1453.5 C406.4,1452.3 407.0,1451.1 407.6,1449.9 C408.1,1448.7 408.7,1447.5 409.2,1446.3 C409.8,1445.1 410.4,1443.9 410.9,1442.7 C411.5,1441.5 412.0,1440.3 412.6,1439.1 C413.2,1437.9 413.8,1436.8 414.3,1435.6 C414.9,1434.5 415.5,1433.3 416.1,1432.2 C416.7,1431.0 417.3,1429.9 417.9,1428.8 C418.5,1427.7 419.2,1426.6 419.8,1425.4 C420.5,1424.3 421.1,1423.2 421.8,1422.2 C422.5,1421.1 423.2,1420.0 423.9,1418.9 C424.7,1417.8 425.4,1416.8 426.2,1415.7 C427.0,1414.6 427.8,1413.6 428.6,1412.5 C429.4,1411.5 430.3,1410.4 431.1,1409.4 C432.0,1408.4 432.8,1407.3 433.7,1406.3 C434.6,1405.3 435.5,1404.2 436.4,1403.2 C437.3,1402.2 438.3,1401.2 439.2,1400.2 C440.1,1399.2 441.1,1398.2 442.0,1397.2 C443.0,1396.2 444.0,1395.2 444.9,1394.2 C445.9,1393.2 446.9,1392.3 447.8,1391.3 C448.8,1390.3 449.8,1389.3 450.7,1388.3 C451.7,1387.4 452.7,1386.4 453.6,1385.4 C454.6,1384.4 455.5,1383.5 456.5,1382.5 C457.4,1381.5 458.3,1380.5 459.2,1379.6 C460.2,1378.6 461.1,1377.6 461.9,1376.6 C462.8,1375.6 463.7,1374.6 464.5,1373.6 C465.3,1372.6 466.2,1371.7 467.0,1370.7 C467.8,1369.7 468.6,1368.6 469.3,1367.6 C470.1,1366.6 470.9,1365.6 471.6,1364.6 C472.4,1363.5 473.1,1362.5 473.9,1361.5 C474.6,1360.4 475.3,1359.4 476.1,1358.3 C476.8,1357.3 477.5,1356.2 478.2,1355.1 C478.9,1354.0 479.7,1352.9 480.4,1351.8 C481.1,1350.7 481.8,1349.6 482.5,1348.5 C483.2,1347.4 483.9,1346.2 484.6,1345.1 C485.3,1344.0 486.0,1342.8 486.7,1341.7 C487.4,1340.5 488.1,1339.4 488.8,1338.2 C489.5,1337.1 490.2,1335.9 490.9,1334.7 C491.6,1333.6 492.3,1332.4 493.0,1331.2 C493.7,1330.0 494.4,1328.9 495.1,1327.7 C495.7,1326.5 496.4,1325.3 497.1,1324.1 C497.8,1322.9 498.5,1321.8 499.1,1320.6 C499.8,1319.4 500.5,1318.2 501.2,1317.0 C501.8,1315.8 502.5,1314.6 503.1,1313.5 C503.8,1312.3 504.5,1311.1 505.1,1309.9 C505.8,1308.7 506.4,1307.6 507.1,1306.4 C507.8,1305.2 508.4,1304.0 509.1,1302.9 C509.7,1301.7 510.4,1300.6 511.0,1299.4 C511.7,1298.3 512.4,1297.1 513.0,1296.0 C513.7,1294.8 514.4,1293.7 515.0,1292.6 C515.7,1291.4 516.4,1290.3 517.1,1289.2 C517.8,1288.1 518.5,1287.0 519.2,1285.9 C519.9,1284.8 520.7,1283.7 521.4,1282.6 C522.2,1281.5 522.9,1280.5 523.7,1279.4 C524.5,1278.3 525.2,1277.3 526.1,1276.3 C526.9,1275.2 527.7,1274.2 528.5,1273.2 C529.4,1272.1 530.2,1271.1 531.1,1270.1 C532.0,1269.1 532.9,1268.1 533.8,1267.2 C534.7,1266.2 535.6,1265.2 536.5,1264.2 C537.5,1263.2 538.4,1262.3 539.3,1261.3 C540.3,1260.3 541.2,1259.4 542.2,1258.4 C543.1,1257.5 544.1,1256.5 545.0,1255.5 C546.0,1254.6 546.9,1253.6 547.9,1252.7 C548.8,1251.7 549.8,1250.7 550.7,1249.8 C551.7,1248.8 552.6,1247.8 553.5,1246.8 C554.5,1245.9 555.4,1244.9 556.3,1243.9 C557.2,1242.9 558.1,1241.9 559.0,1240.9 C559.8,1239.9 560.7,1238.9 561.6,1237.9 C562.4,1236.8 563.2,1235.8 564.0,1234.8 C564.9,1233.7 565.6,1232.7 566.4,1231.6 C567.2,1230.5 567.9,1229.4 568.6,1228.3 C569.4,1227.2 570.1,1226.1 570.7,1225.0 C571.4,1223.9 572.1,1222.7 572.7,1221.6 C573.3,1220.4 574.0,1219.3 574.6,1218.1 C575.2,1216.9 575.7,1215.7 576.3,1214.6 C576.9,1213.4 577.4,1212.2 578.0,1211.0 C578.5,1209.8 579.0,1208.5 579.6,1207.3 C580.1,1206.1 580.6,1204.9 581.0,1203.6 C581.5,1202.4 582.0,1201.1 582.5,1199.9 C582.9,1198.6 583.4,1197.4 583.8,1196.1 C584.3,1194.9 584.7,1193.6 585.2,1192.3 C585.6,1191.1 586.0,1189.8 586.4,1188.5 C586.9,1187.2 587.3,1186.0 587.7,1184.7 C588.1,1183.4 588.5,1182.1 588.9,1180.9 C589.3,1179.6 589.7,1178.3 590.1,1177.0 C590.5,1175.7 590.9,1174.4 591.3,1173.2 C591.7,1171.9 592.1,1170.6 592.5,1169.3 C592.9,1168.0 593.3,1166.8 593.7,1165.5 C594.1,1164.2 594.5,1162.9 594.9,1161.7 C595.3,1160.4 595.8,1159.1 596.2,1157.9 C596.6,1156.6 597.1,1155.3 597.5,1154.1 C597.9,1152.8 598.4,1151.6 598.8,1150.3 C599.3,1149.1 599.8,1147.8 600.3,1146.6 C600.7,1145.4 601.2,1144.1 601.7,1142.9 C602.2,1141.7 602.8,1140.5 603.3,1139.3 C603.8,1138.1 604.4,1136.9 604.9,1135.7 C605.5,1134.5 606.1,1133.3 606.7,1132.2 C607.3,1131.0 607.9,1129.8 608.5,1128.7 C609.2,1127.5 609.8,1126.4 610.5,1125.2 C611.2,1124.1 611.9,1123.0 612.6,1121.9 C613.3,1120.8 614.0,1119.7 614.8,1118.6 C615.6,1117.5 616.4,1116.4 617.2,1115.3 C618.0,1114.3 618.8,1113.2 619.7,1112.2 C620.5,1111.1 621.4,1110.1 622.3,1109.1 C623.2,1108.1 624.1,1107.1 625.0,1106.1 C625.9,1105.1 626.9,1104.1 627.8,1103.1 C628.7,1102.1 629.7,1101.1 630.6,1100.1 C631.6,1099.1 632.5,1098.1 633.4,1097.2 C634.4,1096.2 635.3,1095.2 636.2,1094.2 C637.1,1093.2 638.0,1092.2 638.9,1091.3 C639.8,1090.3 640.7,1089.3 641.6,1088.3 C642.4,1087.3 643.3,1086.3 644.1,1085.3 C644.9,1084.3 645.7,1083.3 646.5,1082.2 C647.3,1081.2 648.1,1080.2 648.8,1079.1 C649.6,1078.1 650.3,1077.0 651.0,1076.0 C651.8,1074.9 652.5,1073.8 653.2,1072.7 C653.9,1071.6 654.6,1070.5 655.4,1069.4 C656.1,1068.3 656.8,1067.2 657.5,1066.0 C658.2,1064.9 658.9,1063.7 659.6,1062.6 C660.3,1061.4 661.0,1060.3 661.7,1059.1 C662.4,1058.0 663.2,1056.8 663.9,1055.7 C664.6,1054.5 665.4,1053.4 666.1,1052.3 C666.9,1051.2 667.7,1050.0 668.4,1048.9 C669.2,1047.8 670.0,1046.7 670.8,1045.7 C671.7,1044.6 672.5,1043.5 673.4,1042.5 C674.2,1041.5 675.1,1040.4 676.0,1039.4 C676.9,1038.4 677.8,1037.5 678.8,1036.5 C679.7,1035.5 680.6,1034.6 681.6,1033.6 C682.5,1032.7 683.5,1031.7 684.4,1030.8 C685.4,1029.9 686.4,1029.0 687.3,1028.0 C688.3,1027.1 689.3,1026.2 690.2,1025.2 C691.2,1024.3 692.1,1023.4 693.1,1022.4 C694.0,1021.5 694.9,1020.6 695.9,1019.6 C696.8,1018.6 697.7,1017.7 698.6,1016.7 C699.4,1015.7 700.3,1014.7 701.1,1013.7 C702.0,1012.7 702.8,1011.7 703.6,1010.6 C704.4,1009.6 705.2,1008.5 706.0,1007.4 C706.7,1006.4 707.5,1005.3 708.2,1004.2 C709.0,1003.1 709.7,1002.0 710.4,1000.8 C711.1,999.7 711.8,998.6 712.5,997.5 C713.2,996.3 713.8,995.2 714.5,994.0 C715.1,992.8 715.8,991.7 716.4,990.5 C717.0,989.3 717.6,988.1 718.2,986.9 C718.8,985.7 719.4,984.5 720.0,983.3 C720.6,982.1 721.2,980.9 721.8,979.7 C722.4,978.5 722.9,977.3 723.5,976.0 C724.0,974.8 724.6,973.6 725.2,972.4 C725.7,971.1 726.2,969.9 726.8,968.7 C727.3,967.4 727.9,966.2 728.4,965.0 C728.9,963.7 729.5,962.5 730.0,961.3 C730.5,960.0 731.1,958.8 731.6,957.6 C732.1,956.3 732.7,955.1 733.2,953.9 C733.7,952.7 734.3,951.4 734.8,950.2 C735.4,949.0 735.9,947.8 736.4,946.6 C737.0,945.4 737.5,944.2 738.1,943.0 C738.6,941.7 739.2,940.5 739.8,939.3 C740.3,938.2 740.9,937.0 741.5,935.8 C742.0,934.6 742.6,933.4 743.2,932.2 C743.8,931.0 744.4,929.9 745.0,928.7 C745.6,927.5 746.2,926.3 746.8,925.2 C747.4,924.0 748.0,922.9 748.7,921.7 C749.3,920.6 750.0,919.4 750.6,918.3 C751.3,917.1 751.9,916.0 752.6,914.9 C753.3,913.7 754.0,912.6 754.7,911.5 C755.4,910.4 756.1,909.3 756.8,908.2 C757.6,907.1 758.3,906.0 759.1,904.9 C759.8,903.8 760.6,902.7 761.4,901.6 C762.2,900.5 763.0,899.4 763.8,898.4 C764.6,897.3 765.4,896.2 766.3,895.2 C767.1,894.1 768.0,893.1 768.9,892.0 C769.7,891.0 770.6,890.0 771.5,888.9 C772.4,887.9 773.3,886.8 774.2,885.8 C775.1,884.8 776.0,883.7 776.8,882.7 C777.7,881.7 778.6,880.7 779.5,879.6 C780.4,878.6 781.3,877.6 782.2,876.5 C783.0,875.5 783.9,874.4 784.8,873.4 C785.6,872.4 786.5,871.3 787.3,870.3 C788.1,869.2 788.9,868.2 789.7,867.1 C790.5,866.1 791.3,865.0 792.1,863.9 C792.8,862.8 793.5,861.8 794.3,860.7 C795.0,859.6 795.7,858.5 796.3,857.4 C797.0,856.3 797.7,855.2 798.3,854.1 C799.0,853.0 799.6,851.8 800.2,850.7 C800.8,849.6 801.4,848.4 802.0,847.3 C802.6,846.2 803.2,845.0 803.8,843.9 C804.4,842.7 805.0,841.5 805.6,840.4 C806.2,839.2 806.7,838.0 807.3,836.9 C807.9,835.7 808.5,834.5 809.1,833.3 C809.7,832.1 810.3,830.9 810.8,829.8 C811.4,828.6 812.0,827.4 812.6,826.2 C813.2,824.9 813.8,823.7 814.4,822.5 C815.0,821.3 815.6,820.1 816.1,818.9 C816.7,817.7 817.3,816.4 817.9,815.2 C818.5,814.0 819.1,812.8 819.7,811.5 C820.3,810.3 820.8,809.0 821.4,807.8 C822.0,806.6 822.6,805.3 823.2,804.1 C823.7,802.8 824.3,801.6 824.9,800.3 C825.5,799.1 826.0,797.9 826.6,796.6 C827.1,795.4 827.7,794.1 828.3,792.9 C828.8,791.6 829.4,790.4 829.9,789.1 C830.4,787.8 831.0,786.6 831.5,785.3 C832.0,784.1 832.5,782.9 833.0,781.6 C833.5,780.4 834.0,779.1 834.5,777.9 C835.0,776.6 835.5,775.4 836.0,774.1 C836.5,772.9 836.9,771.7 837.4,770.4 C837.9,769.2 838.4,768.0 838.8,766.8 C839.3,765.5 839.8,764.3 840.2,763.1 C840.7,761.9 841.2,760.7 841.7,759.5 C842.2,758.2 842.6,757.0 843.1,755.8 C843.6,754.6 844.1,753.5 844.7,752.3 C845.2,751.1 845.7,749.9 846.3,748.7 C846.8,747.6 847.4,746.4 847.9,745.2 C848.5,744.1 849.1,742.9 849.7,741.8 C850.3,740.6 851.0,739.5 851.6,738.4 C852.3,737.3 852.9,736.1 853.6,735.0 C854.3,733.9 855.0,732.8 855.7,731.7 C856.5,730.6 857.2,729.5 858.0,728.4 C858.7,727.4 859.5,726.3 860.3,725.2 C861.1,724.1 861.9,723.1 862.7,722.0 C863.5,720.9 864.3,719.9 865.1,718.8 C865.9,717.7 866.8,716.7 867.6,715.6 C868.4,714.6 869.3,713.5 870.1,712.5 C871.0,711.4 871.8,710.4 872.7,709.3 C873.5,708.3 874.4,707.2 875.3,706.2 C876.1,705.1 877.0,704.1 877.9,703.0 C878.7,702.0 879.6,700.9 880.4,699.9 C881.3,698.8 882.1,697.8 883.0,696.7 C883.8,695.6 884.7,694.6 885.5,693.5 C886.4,692.5 887.2,691.4 888.0,690.3 C888.8,689.3 889.7,688.2 890.5,687.1 C891.3,686.0 892.1,685.0 892.8,683.9 C893.6,682.8 894.4,681.7 895.1,680.6 C895.9,679.5 896.6,678.4 897.4,677.3 C898.1,676.2 898.9,675.1 899.6,673.9 C900.3,672.8 901.0,671.7 901.7,670.6 C902.4,669.4 903.1,668.3 903.8,667.2 C904.5,666.1 905.1,664.9 905.8,663.8 C906.5,662.6 907.1,661.5 907.8,660.3 C908.4,659.2 909.1,658.0 909.7,656.9 C910.4,655.7 911.0,654.6 911.6,653.4 C912.3,652.2 912.9,651.1 913.5,649.9 C914.1,648.7 914.8,647.6 915.4,646.4 C916.0,645.2 916.6,644.1 917.2,642.9 C917.8,641.7 918.4,640.5 919.0,639.4 C919.6,638.2 920.2,637.0 920.8,635.8 C921.4,634.6 922.0,633.4 922.6,632.2 C923.2,631.1 923.8,629.9 924.3,628.7 C924.9,627.5 925.5,626.3 926.1,625.1 C926.7,623.9 927.3,622.7 927.9,621.5 C928.4,620.3 929.0,619.1 929.6,617.9 C930.2,616.7 930.8,615.5 931.3,614.4 C931.9,613.2 932.5,612.0 933.1,610.8 C933.6,609.6 934.2,608.4 934.8,607.2 C935.4,606.0 936.0,604.8 936.5,603.6 C937.1,602.4 937.7,601.2 938.3,600.0 C938.9,598.8 939.4,597.6 940.0,596.4 C940.6,595.2 941.2,594.0 941.8,592.8 C942.4,591.6 942.9,590.4 943.5,589.2 C944.1,588.0 944.7,586.8 945.3,585.6 C945.9,584.4 946.5,583.2 947.1,582.0 C947.7,580.8 948.3,579.7 948.9,578.5 C949.5,577.3 950.1,576.1 950.7,574.9 C951.3,573.7 951.9,572.5 952.5,571.4 C953.2,570.2 953.8,569.0 954.4,567.8 C955.0,566.6 955.6,565.5 956.3,564.3 C956.9,563.1 957.5,561.9 958.2,560.8 C958.8,559.6 959.4,558.4 960.1,557.3 C960.7,556.1 961.4,554.9 962.0,553.8 C962.7,552.6 963.4,551.5 964.0,550.3 C964.7,549.1 965.4,548.0 966.1,546.9 C966.7,545.7 967.4,544.6 968.1,543.4 C968.8,542.3 969.5,541.1 970.2,540.0 C970.9,538.9 971.6,537.7 972.3,536.6 C973.0,535.5 973.7,534.4 974.5,533.2 C975.2,532.1 975.9,531.0 976.7,529.9 C977.4,528.8 978.2,527.7 978.9,526.6 C979.7,525.5 980.4,524.4 981.2,523.3 C982.0,522.2 982.8,521.1 983.5,520.0 C984.3,518.9 985.1,517.8 985.9,516.8 C986.7,515.7 987.5,514.6 988.3,513.6 C989.1,512.5 989.9,511.4 990.7,510.4 C991.6,509.3 992.4,508.3 993.2,507.2 C994.1,506.2 994.9,505.1 995.8,504.1 C996.6,503.1 997.5,502.0 998.3,501.0 C999.2,500.0 1000.0,499.0 1000.9,498.0 C1001.8,497.0 1002.7,495.9 1003.5,494.9 C1004.4,493.9 1005.3,493.0 1006.2,492.0 C1007.1,491.0 1008.0,490.0 1008.9,489.0 C1009.8,488.1 1010.8,487.1 1011.7,486.1 C1012.6,485.2 1013.5,484.2 1014.5,483.3 C1015.4,482.3 1016.3,481.4 1017.3,480.4 C1018.2,479.5 1019.2,478.6 1020.1,477.7 C1021.1,476.8 1022.1,475.8 1023.0,474.9 C1024.0,474.0 1025.0,473.1 1025.9,472.2 C1026.9,471.4 1027.9,470.5 1028.9,469.6 C1029.9,468.7 1030.9,467.9 1031.9,467.0 C1032.9,466.2 1033.9,465.3 1034.9,464.5 C1035.9,463.6 1037.0,462.8 1038.0,462.0 C1039.0,461.1 1040.1,460.3 1041.1,459.5 C1042.1,458.7 1043.2,457.9 1044.2,457.1 C1045.3,456.3 1046.3,455.5 1047.4,454.8 C1048.4,454.0 1049.5,453.2 1050.6,452.5 C1051.6,451.7 1052.7,451.0 1053.8,450.2 C1054.9,449.5 1056.0,448.8 1057.0,448.0 C1058.1,447.3 1059.2,446.6 1060.2,445.8 C1061.3,445.0 1062.3,444.3 1063.3,443.4 C1064.3,442.6 1065.3,441.8 1066.3,440.9 C1067.2,440.0 1068.1,439.1 1069.0,438.1 C1069.8,437.1 1070.6,436.1 1071.4,435.0 C1072.2,433.9 1072.9,432.7 1073.6,431.5 C1074.2,430.4 1074.9,429.1 1075.5,427.9 C1076.1,426.6 1076.6,425.3 1077.1,424.0 C1077.7,422.7 1078.2,421.4 1078.7,420.1 C1079.1,418.8 1079.6,417.4 1080.0,416.1 C1080.4,414.8 1080.8,413.5 1081.2,412.2 C1081.6,410.9 1082.0,409.6 1082.4,408.3 C1082.7,407.0 1083.1,405.7 1083.4,404.4 C1083.8,403.2 1084.1,401.9 1084.4,400.6 C1084.8,399.4 1085.1,398.1 1085.4,396.9 C1085.7,395.6 1086.1,394.3 1086.4,393.1 C1086.7,391.8 1087.0,390.6 1087.3,389.3 C1087.6,388.1 1088.0,386.8 1088.3,385.6 C1088.6,384.3 1089.0,383.1 1089.3,381.8 C1089.6,380.6 1090.0,379.3 1090.3,378.0 C1090.7,376.8 1091.0,375.5 1091.4,374.2 C1091.8,372.9 1092.1,371.7 1092.5,370.4 C1092.9,369.1 1093.3,367.8 1093.7,366.4 C1094.1,365.1 1094.5,363.8 1095.0,362.5 C1095.4,361.2 1095.9,359.9 1096.4,358.6 C1096.9,357.2 1097.4,355.9 1097.9,354.7 C1098.4,353.4 1099.0,352.1 1099.6,350.8 C1100.1,349.6 1100.8,348.3 1101.4,347.1 C1102.1,345.9 1102.8,344.7 1103.5,343.5 C1104.2,342.4 1105.0,341.2 1105.8,340.2 C1106.6,339.2 1107.4,338.2 1108.3,337.4 C1109.2,336.5 1110.2,335.8 1111.2,335.2 C1112.2,334.6 1113.3,334.1 1114.4,333.8 C1115.5,333.5 1116.6,333.4 1117.8,333.3 C1119.0,333.3 1120.3,333.4 1121.5,333.5 C1122.8,333.7 1124.1,333.9 1125.4,334.1 C1126.8,334.4 1128.1,334.7 1129.5,335.0 C1130.9,335.2 1132.2,335.6 1133.6,335.8 C1135.0,336.0 1136.4,336.2 1137.8,336.3 C1139.2,336.5 1140.5,336.5 1141.9,336.6 C1143.3,336.6 1144.7,336.5 1146.0,336.4 C1147.4,336.3 1148.7,336.2 1150.1,335.9 C1151.4,335.7 1152.7,335.5 1154.0,335.2 C1155.3,334.8 1156.6,334.5 1157.9,334.1 C1159.2,333.6 1160.4,333.2 1161.6,332.7 C1162.9,332.2 1164.1,331.6 1165.2,331.0 C1166.4,330.4 1167.6,329.8 1168.7,329.1 C1169.8,328.4 1170.9,327.7 1171.9,326.9 C1173.0,326.1 1174.0,325.3 1175.0,324.5 C1176.0,323.6 1177.0,322.8 1178.0,321.9 C1178.9,321.0 1179.8,320.0 1180.8,319.1 C1181.7,318.1 1182.6,317.2 1183.4,316.2 C1184.3,315.2 1185.2,314.2 1186.1,313.1 C1186.9,312.1 1187.8,311.1 1188.6,310.0 C1189.5,309.0 1190.3,307.9 1191.1,306.8 C1192.0,305.8 1192.8,304.7 1193.6,303.6 C1194.5,302.6 1195.3,301.5 1196.2,300.5 C1197.0,299.4 1197.9,298.3 1198.7,297.3 C1199.6,296.2 1200.5,295.2 1201.3,294.2 C1202.2,293.2 1203.1,292.2 1204.0,291.2 C1205.0,290.2 1205.9,289.2 1206.9,288.3 C1207.8,287.3 1208.8,286.4 1209.8,285.5 C1210.7,284.6 1211.7,283.7 1212.8,282.8 C1213.8,282.0 1214.8,281.2 1215.9,280.4 C1216.9,279.6 1218.0,278.8 1219.1,278.1 C1220.2,277.3 1221.3,276.6 1222.4,275.9 C1223.5,275.3 1224.6,274.6 1225.8,274.0 C1226.9,273.4 1228.1,272.8 1229.3,272.3 C1230.5,271.8 1231.7,271.3 1232.9,270.8 C1234.1,270.3 1235.3,269.9 1236.6,269.6 C1237.8,269.2 1239.1,268.9 1240.4,268.6 C1241.6,268.3 1242.9,268.0 1244.2,267.8 C1245.5,267.5 1246.8,267.3 1248.2,267.1 C1249.5,266.9 1250.8,266.7 1252.1,266.4 C1253.4,266.2 1254.7,266.0 1256.1,265.7 C1257.4,265.5 1258.7,265.2 1260.0,264.9 C1261.3,264.6 1262.6,264.2 1263.9,263.8 C1265.1,263.5 1266.4,263.0 1267.7,262.5 C1268.9,262.0 1270.2,261.5 1271.4,261.0 C1272.7,260.4 1273.9,259.9 1275.1,259.3 C1276.3,258.7 1277.6,258.1 1278.8,257.5 C1280.0,257.0 1281.2,256.4 1282.5,255.8 C1283.7,255.2 1284.9,254.6 1286.1,254.1 C1287.4,253.6 1288.6,253.1 1289.8,252.6 C1291.1,252.1 1292.3,251.7 1293.6,251.3 C1294.8,250.9 1296.1,250.6 1297.4,250.3 C1298.7,250.0 1299.9,249.8 1301.2,249.7 C1302.5,249.5 1303.9,249.4 1305.2,249.4 C1306.5,249.3 1307.8,249.3 1309.2,249.3 C1310.5,249.3 1311.8,249.4 1313.2,249.4 C1314.5,249.4 1315.9,249.5 1317.2,249.5 C1318.6,249.6 1319.9,249.6 1321.2,249.7 C1322.6,249.7 1323.9,249.7 1325.2,249.7 C1326.6,249.6 1327.9,249.6 1329.2,249.4 C1330.5,249.3 1331.8,249.2 1333.1,248.9 C1334.4,248.7 1335.7,248.4 1336.9,248.1 C1338.2,247.7 1339.4,247.3 1340.7,246.9 C1342.0,246.4 1343.2,246.0 1344.4,245.5 C1345.7,245.0 1346.9,244.4 1348.1,243.9 C1349.4,243.3 1350.6,242.7 1351.8,242.2 C1353.1,241.6 1354.3,241.0 1355.6,240.4 C1356.8,239.9 1358.0,239.3 1359.3,238.8 C1360.5,238.2 1361.8,237.7 1363.1,237.2 C1364.3,236.7 1365.6,236.2 1366.9,235.8 C1368.2,235.4 1369.5,235.0 1370.8,234.7 C1372.1,234.4 1373.4,234.1 1374.7,233.8 C1376.1,233.6 1377.4,233.4 1378.7,233.3 C1380.1,233.1 1381.4,233.1 1382.7,233.0 C1384.1,233.0 1385.4,233.0 1386.7,233.1 C1388.0,233.1 1389.3,233.3 1390.6,233.4 C1391.9,233.6 1393.2,233.8 1394.5,234.1 C1395.7,234.4 1397.0,234.8 1398.2,235.1 C1399.4,235.5 1400.7,236.0 1401.9,236.5 C1403.1,236.9 1404.3,237.5 1405.4,238.0 C1406.6,238.6 1407.8,239.2 1408.9,239.9 C1410.1,240.5 1411.2,241.2 1412.4,241.9 C1413.5,242.6 1414.6,243.3 1415.7,244.1 C1416.8,244.8 1417.9,245.6 1419.0,246.4 C1420.1,247.2 1421.2,248.0 1422.3,248.9 C1423.3,249.7 1424.4,250.6 1425.5,251.4 C1426.5,252.3 1427.6,253.1 1428.6,254.0 C1429.7,254.9 1430.7,255.8 1431.8,256.6 C1432.8,257.5 1433.8,258.4 1434.9,259.2 C1435.9,260.1 1436.9,261.0 1437.9,261.9 C1438.9,262.7 1440.0,263.6 1441.0,264.5 C1442.0,265.3 1443.0,266.2 1444.0,267.1 C1445.0,268.0 1446.0,268.8 1447.0,269.7 C1448.0,270.6 1449.0,271.5 1449.9,272.4 C1450.9,273.3 1451.9,274.1 1452.9,275.0 C1453.9,275.9 1454.8,276.8 1455.8,277.7 C1456.8,278.6 1457.7,279.5 1458.7,280.4 C1459.6,281.3 1460.6,282.2 1461.5,283.1 C1462.5,284.0 1463.4,285.0 1464.4,285.9 C1465.3,286.8 1466.3,287.7 1467.2,288.7 C1468.1,289.6 1469.1,290.5 1470.0,291.5 C1470.9,292.4 1471.9,293.4 1472.8,294.3 C1473.7,295.3 1474.6,296.3 1475.5,297.2 C1476.4,298.2 1477.4,299.2 1478.3,300.2 C1479.2,301.2 1480.1,302.2 1481.0,303.2 C1481.9,304.2 1482.8,305.2 1483.7,306.2 C1484.5,307.2 1485.4,308.2 1486.3,309.3 C1487.2,310.3 1488.0,311.3 1488.9,312.4 C1489.7,313.4 1490.5,314.5 1491.4,315.5 C1492.2,316.6 1493.0,317.6 1493.8,318.7 C1494.6,319.7 1495.4,320.8 1496.2,321.9 C1496.9,322.9 1497.7,324.0 1498.4,325.1 C1499.2,326.2 1499.9,327.2 1500.6,328.3 C1501.3,329.4 1502.0,330.5 1502.8,331.6 C1503.5,332.7 1504.2,333.8 1504.9,334.8 C1505.6,335.9 1506.3,337.0 1507.0,338.1 C1507.7,339.2 1508.5,340.3 1509.2,341.4 C1509.9,342.5 1510.6,343.6 1511.4,344.7 C1512.1,345.8 1512.9,346.9 1513.6,348.0 C1514.4,349.1 1515.2,350.2 1516.0,351.3 C1516.7,352.4 1517.5,353.5 1518.3,354.6 C1519.1,355.7 1519.9,356.8 1520.7,357.9 C1521.5,359.1 1522.4,360.2 1523.2,361.3 C1524.0,362.4 1524.8,363.5 1525.6,364.6 C1526.4,365.7 1527.2,366.8 1528.0,367.9 C1528.8,369.1 1529.6,370.2 1530.3,371.3 C1531.1,372.4 1531.9,373.6 1532.6,374.7 C1533.4,375.8 1534.2,376.9 1534.9,378.1 C1535.6,379.2 1536.3,380.3 1537.0,381.5 C1537.7,382.6 1538.4,383.8 1539.1,384.9 C1539.7,386.1 1540.4,387.2 1541.0,388.4 C1541.7,389.5 1542.3,390.7 1542.9,391.8 C1543.5,393.0 1544.1,394.1 1544.7,395.3 C1545.3,396.5 1545.9,397.6 1546.4,398.8 C1547.0,400.0 1547.6,401.2 1548.1,402.3 C1548.7,403.5 1549.2,404.7 1549.7,405.9 C1550.3,407.0 1550.8,408.2 1551.4,409.4 C1551.9,410.6 1552.4,411.8 1552.9,413.0 C1553.5,414.2 1554.0,415.3 1554.5,416.5 C1555.1,417.7 1555.6,418.9 1556.1,420.1 C1556.6,421.3 1557.2,422.5 1557.7,423.7 C1558.2,424.9 1558.8,426.1 1559.3,427.3 C1559.9,428.5 1560.4,429.7 1561.0,430.9 C1561.5,432.1 1562.1,433.3 1562.7,434.5 C1563.3,435.7 1563.9,436.9 1564.4,438.1 C1565.0,439.3 1565.6,440.5 1566.2,441.7 C1566.8,442.9 1567.4,444.2 1568.0,445.4 C1568.7,446.6 1569.3,447.8 1569.9,449.0 C1570.5,450.2 1571.1,451.4 1571.8,452.6 C1572.4,453.8 1573.0,455.0 1573.6,456.2 C1574.3,457.4 1574.9,458.6 1575.5,459.8 C1576.2,461.0 1576.8,462.3 1577.4,463.5 C1578.1,464.7 1578.7,465.9 1579.3,467.1 C1580.0,468.3 1580.6,469.5 1581.2,470.7 C1581.9,471.9 1582.5,473.1 1583.1,474.3 C1583.8,475.5 1584.4,476.7 1585.0,477.9 C1585.6,479.1 1586.3,480.3 1586.9,481.5 C1587.5,482.7 1588.1,483.8 1588.7,485.0 C1589.3,486.2 1589.9,487.4 1590.5,488.6 C1591.2,489.8 1591.8,491.0 1592.4,492.2 C1593.0,493.4 1593.6,494.6 1594.2,495.7 C1594.8,496.9 1595.4,498.1 1596.0,499.3 C1596.5,500.5 1597.1,501.7 1597.7,502.9 C1598.3,504.0 1598.9,505.2 1599.5,506.4 C1600.1,507.6 1600.7,508.8 1601.3,510.0 C1601.8,511.2 1602.4,512.3 1603.0,513.5 C1603.6,514.7 1604.2,515.9 1604.7,517.1 C1605.3,518.3 1605.9,519.4 1606.5,520.6 C1607.1,521.8 1607.6,523.0 1608.2,524.2 C1608.8,525.3 1609.3,526.5 1609.9,527.7 C1610.5,528.9 1611.1,530.1 1611.6,531.3 C1612.2,532.5 1612.8,533.6 1613.3,534.8 C1613.9,536.0 1614.5,537.2 1615.1,538.4 C1615.6,539.6 1616.2,540.8 1616.8,541.9 C1617.3,543.1 1617.9,544.3 1618.5,545.5 C1619.0,546.7 1619.6,547.9 1620.2,549.1 C1620.7,550.3 1621.3,551.5 1621.9,552.7 C1622.4,553.9 1623.0,555.1 1623.6,556.3 C1624.1,557.4 1624.7,558.6 1625.3,559.8 C1625.9,561.0 1626.4,562.2 1627.0,563.4 C1627.6,564.6 1628.1,565.8 1628.7,567.1 C1629.3,568.3 1629.9,569.5 1630.4,570.7 C1631.0,571.9 1631.6,573.1 1632.2,574.3 C1632.7,575.5 1633.3,576.7 1633.9,577.9 C1634.5,579.2 1635.0,580.4 1635.6,581.6 C1636.2,582.8 1636.8,584.0 1637.3,585.2 C1637.9,586.5 1638.5,587.7 1639.1,588.9 C1639.6,590.1 1640.2,591.4 1640.8,592.6 C1641.4,593.8 1641.9,595.0 1642.5,596.3 C1643.1,597.5 1643.6,598.7 1644.2,599.9 C1644.7,601.2 1645.3,602.4 1645.9,603.6 C1646.4,604.9 1647.0,606.1 1647.5,607.3 C1648.1,608.6 1648.6,609.8 1649.2,611.0 C1649.7,612.3 1650.3,613.5 1650.8,614.7 C1651.3,616.0 1651.9,617.2 1652.4,618.5 C1652.9,619.7 1653.5,620.9 1654.0,622.2 C1654.5,623.4 1655.0,624.6 1655.5,625.9 C1656.1,627.1 1656.6,628.4 1657.1,629.6 C1657.6,630.8 1658.1,632.1 1658.6,633.3 C1659.0,634.6 1659.5,635.8 1660.0,637.1 C1660.5,638.3 1661.0,639.5 1661.4,640.8 C1661.9,642.0 1662.4,643.3 1662.9,644.5 C1663.3,645.8 1663.8,647.0 1664.3,648.2 C1664.7,649.5 1665.2,650.7 1665.6,652.0 C1666.1,653.2 1666.6,654.4 1667.0,655.7 C1667.5,656.9 1667.9,658.2 1668.4,659.4 C1668.8,660.7 1669.3,661.9 1669.7,663.1 C1670.2,664.4 1670.6,665.6 1671.1,666.9 C1671.6,668.1 1672.0,669.3 1672.5,670.6 C1672.9,671.8 1673.4,673.1 1673.8,674.3 C1674.3,675.5 1674.8,676.8 1675.2,678.0 C1675.7,679.3 1676.1,680.5 1676.6,681.7 C1677.1,683.0 1677.6,684.2 1678.0,685.4 C1678.5,686.7 1679.0,687.9 1679.5,689.1 C1679.9,690.4 1680.4,691.6 1680.9,692.8 C1681.4,694.1 1681.9,695.3 1682.4,696.5 C1682.9,697.8 1683.4,699.0 1683.9,700.2 C1684.4,701.4 1684.9,702.7 1685.4,703.9 C1685.9,705.1 1686.4,706.4 1686.9,707.6 C1687.5,708.8 1688.0,710.0 1688.5,711.3 C1689.0,712.5 1689.5,713.7 1690.0,714.9 C1690.6,716.2 1691.1,717.4 1691.6,718.6 C1692.1,719.8 1692.7,721.0 1693.2,722.3 C1693.7,723.5 1694.3,724.7 1694.8,725.9 C1695.3,727.2 1695.9,728.4 1696.4,729.6 C1697.0,730.8 1697.5,732.0 1698.0,733.3 C1698.6,734.5 1699.1,735.7 1699.7,736.9 C1700.2,738.1 1700.7,739.4 1701.3,740.6 C1701.8,741.8 1702.4,743.0 1702.9,744.2 C1703.5,745.4 1704.0,746.7 1704.6,747.9 C1705.1,749.1 1705.7,750.3 1706.2,751.5 C1706.8,752.8 1707.3,754.0 1707.9,755.2 C1708.4,756.4 1709.0,757.6 1709.5,758.8 C1710.1,760.1 1710.6,761.3 1711.2,762.5 C1711.7,763.7 1712.3,764.9 1712.8,766.2 C1713.4,767.4 1713.9,768.6 1714.5,769.8 C1715.0,771.0 1715.6,772.3 1716.2,773.5 C1716.7,774.7 1717.2,775.9 1717.8,777.1 C1718.3,778.3 1718.9,779.6 1719.4,780.8 C1720.0,782.0 1720.5,783.2 1721.1,784.4 C1721.6,785.7 1722.2,786.9 1722.7,788.1 C1723.3,789.3 1723.8,790.5 1724.3,791.8 C1724.9,793.0 1725.4,794.2 1726.0,795.4 C1726.5,796.7 1727.0,797.9 1727.6,799.1 C1728.1,800.3 1728.6,801.6 1729.2,802.8 C1729.7,804.0 1730.2,805.2 1730.8,806.4 C1731.3,807.7 1731.8,808.9 1732.4,810.1 C1732.9,811.3 1733.4,812.6 1733.9,813.8 C1734.5,815.0 1735.0,816.2 1735.5,817.5 C1736.1,818.7 1736.6,819.9 1737.1,821.1 C1737.6,822.4 1738.2,823.6 1738.7,824.8 C1739.2,826.0 1739.7,827.3 1740.3,828.5 C1740.8,829.7 1741.3,831.0 1741.8,832.2 C1742.3,833.4 1742.9,834.6 1743.4,835.9 C1743.9,837.1 1744.4,838.3 1744.9,839.5 C1745.5,840.8 1746.0,842.0 1746.5,843.2 C1747.0,844.5 1747.5,845.7 1748.0,846.9 C1748.6,848.1 1749.1,849.4 1749.6,850.6 C1750.1,851.8 1750.6,853.1 1751.1,854.3 C1751.6,855.5 1752.2,856.7 1752.7,858.0 C1753.2,859.2 1753.7,860.4 1754.2,861.7 C1754.7,862.9 1755.2,864.1 1755.7,865.3 C1756.3,866.6 1756.8,867.8 1757.3,869.0 C1757.8,870.3 1758.3,871.5 1758.8,872.7 C1759.3,874.0 1759.8,875.2 1760.4,876.4 C1760.9,877.6 1761.4,878.9 1761.9,880.1 C1762.4,881.3 1762.9,882.6 1763.4,883.8 C1763.9,885.0 1764.4,886.3 1765.0,887.5 C1765.5,888.7 1766.0,890.0 1766.5,891.2 C1767.0,892.4 1767.5,893.6 1768.0,894.9 C1768.5,896.1 1769.0,897.3 1769.6,898.6 C1770.1,899.8 1770.6,901.0 1771.1,902.3 C1771.6,903.5 1772.1,904.7 1772.6,905.9 C1773.1,907.2 1773.6,908.4 1774.2,909.6 C1774.7,910.9 1775.2,912.1 1775.7,913.3 C1776.2,914.6 1776.7,915.8 1777.2,917.0 C1777.7,918.3 1778.3,919.5 1778.8,920.7 C1779.3,921.9 1779.8,923.2 1780.3,924.4 C1780.8,925.6 1781.3,926.9 1781.9,928.1 C1782.4,929.3 1782.9,930.6 1783.4,931.8 C1783.9,933.0 1784.4,934.2 1784.9,935.5 C1785.5,936.7 1786.0,937.9 1786.5,939.2 C1787.0,940.4 1787.5,941.6 1788.0,942.8 C1788.6,944.1 1789.1,945.3 1789.6,946.5 C1790.1,947.8 1790.6,949.0 1791.2,950.2 C1791.7,951.4 1792.2,952.7 1792.7,953.9 C1793.2,955.1 1793.7,956.4 1794.3,957.6 C1794.8,958.8 1795.3,960.0 1795.8,961.3 C1796.3,962.5 1796.9,963.7 1797.4,965.0 C1797.9,966.2 1798.4,967.4 1799.0,968.6 C1799.5,969.9 1800.0,971.1 1800.5,972.3 C1801.0,973.5 1801.6,974.8 1802.1,976.0 C1802.6,977.2 1803.1,978.4 1803.7,979.7 C1804.2,980.9 1804.7,982.1 1805.2,983.3 C1805.8,984.6 1806.3,985.8 1806.8,987.0 C1807.4,988.2 1807.9,989.5 1808.4,990.7 C1808.9,991.9 1809.5,993.1 1810.0,994.4 C1810.5,995.6 1811.1,996.8 1811.6,998.0 C1812.1,999.3 1812.7,1000.5 1813.2,1001.7 C1813.7,1002.9 1814.3,1004.1 1814.8,1005.4 C1815.3,1006.6 1815.9,1007.8 1816.4,1009.0 C1816.9,1010.3 1817.5,1011.5 1818.0,1012.7 C1818.5,1013.9 1819.1,1015.1 1819.6,1016.4 C1820.1,1017.6 1820.7,1018.8 1821.2,1020.0 C1821.8,1021.2 1822.3,1022.5 1822.8,1023.7 C1823.4,1024.9 1823.9,1026.1 1824.5,1027.3 C1825.0,1028.5 1825.5,1029.8 1826.1,1031.0 C1826.6,1032.2 1827.2,1033.4 1827.7,1034.6 C1828.3,1035.8 1828.8,1037.1 1829.3,1038.3 C1829.9,1039.5 1830.4,1040.7 1831.0,1041.9 C1831.5,1043.1 1832.1,1044.4 1832.6,1045.6 C1833.2,1046.8 1833.7,1048.0 1834.3,1049.2 C1834.8,1050.4 1835.4,1051.6 1835.9,1052.9 C1836.5,1054.1 1837.0,1055.3 1837.6,1056.5 C1838.1,1057.7 1838.7,1058.9 1839.2,1060.1 C1839.8,1061.3 1840.4,1062.6 1840.9,1063.8 C1841.5,1065.0 1842.0,1066.2 1842.6,1067.4 C1843.1,1068.6 1843.7,1069.8 1844.3,1071.0 C1844.8,1072.2 1845.4,1073.4 1845.9,1074.6 C1846.5,1075.9 1847.1,1077.1 1847.6,1078.3 C1848.2,1079.5 1848.8,1080.7 1849.3,1081.9 C1849.9,1083.1 1850.5,1084.3 1851.0,1085.5 C1851.6,1086.7 1852.2,1087.9 1852.7,1089.1 C1853.3,1090.3 1853.9,1091.5 1854.4,1092.7 C1855.0,1093.9 1855.6,1095.1 1856.2,1096.3 C1856.7,1097.5 1857.3,1098.7 1857.9,1099.9 C1858.4,1101.1 1859.0,1102.4 1859.6,1103.6 C1860.2,1104.8 1860.8,1106.0 1861.3,1107.2 C1861.9,1108.4 1862.5,1109.6 1863.1,1110.8 C1863.7,1111.9 1864.2,1113.1 1864.8,1114.3 C1865.4,1115.5 1866.0,1116.7 1866.6,1117.9 C1867.2,1119.1 1867.7,1120.3 1868.3,1121.5 C1868.9,1122.7 1869.5,1123.9 1870.1,1125.1 C1870.7,1126.3 1871.3,1127.5 1871.9,1128.7 C1872.5,1129.9 1873.0,1131.1 1873.6,1132.3 C1874.2,1133.5 1874.8,1134.7 1875.4,1135.9 C1876.0,1137.0 1876.6,1138.2 1877.2,1139.4 C1877.8,1140.6 1878.4,1141.8 1879.0,1143.0 C1879.6,1144.2 1880.2,1145.4 1880.8,1146.6 C1881.4,1147.7 1882.0,1148.9 1882.6,1150.1 C1883.2,1151.3 1883.8,1152.5 1884.4,1153.7 C1885.1,1154.9 1885.7,1156.1 1886.3,1157.2 C1886.9,1158.4 1887.5,1159.6 1888.1,1160.8 C1888.7,1162.0 1889.3,1163.2 1889.9,1164.3 C1890.6,1165.5 1891.2,1166.7 1891.8,1167.9 C1892.4,1169.1 1893.0,1170.2 1893.7,1171.4 C1894.3,1172.6 1894.9,1173.8 1895.5,1175.0 C1896.1,1176.1 1896.8,1177.3 1897.4,1178.5 C1898.0,1179.7 1898.6,1180.9 1899.3,1182.0 C1899.9,1183.2 1900.5,1184.4 1901.1,1185.6 C1901.8,1186.7 1902.4,1187.9 1903.0,1189.1 C1903.7,1190.3 1904.3,1191.4 1904.9,1192.6 C1905.6,1193.8 1906.2,1194.9 1906.9,1196.1 C1907.5,1197.3 1908.1,1198.5 1908.8,1199.6 C1909.4,1200.8 1910.1,1202.0 1910.7,1203.1 C1911.3,1204.3 1912.0,1205.5 1912.6,1206.6 C1913.3,1207.8 1913.9,1209.0 1914.6,1210.1 C1915.2,1211.3 1915.9,1212.5 1916.5,1213.6 C1917.2,1214.8 1917.8,1216.0 1918.5,1217.1 C1919.1,1218.3 1919.8,1219.5 1920.5,1220.6 C1921.1,1221.8 1921.8,1222.9 1922.4,1224.1 C1923.1,1225.3 1923.8,1226.4 1924.4,1227.6 C1925.1,1228.7 1925.8,1229.9 1926.4,1231.0 C1927.1,1232.2 1927.8,1233.4 1928.4,1234.5 C1929.1,1235.7 1929.8,1236.8 1930.4,1238.0 C1931.1,1239.1 1931.8,1240.3 1932.5,1241.4 C1933.1,1242.6 1933.8,1243.7 1934.5,1244.9 C1935.2,1246.0 1935.8,1247.2 1936.5,1248.3 C1937.2,1249.5 1937.9,1250.6 1938.6,1251.8 C1939.3,1252.9 1939.9,1254.1 1940.6,1255.2 C1941.3,1256.4 1942.0,1257.5 1942.7,1258.7 C1943.4,1259.8 1944.1,1261.0 1944.8,1262.1 C1945.5,1263.2 1946.2,1264.4 1946.9,1265.5 C1947.6,1266.7 1948.3,1267.8 1949.0,1268.9 C1949.7,1270.1 1950.4,1271.2 1951.1,1272.4 C1951.8,1273.5 1952.5,1274.6 1953.2,1275.8 C1953.9,1276.9 1954.6,1278.0 1955.3,1279.2 C1956.0,1280.3 1956.7,1281.4 1957.4,1282.6 C1958.1,1283.7 1958.8,1284.8 1959.6,1285.9 C1960.3,1287.1 1961.0,1288.2 1961.7,1289.3 C1962.4,1290.4 1963.1,1291.6 1963.9,1292.7 C1964.6,1293.8 1965.3,1294.9 1966.0,1296.1 C1966.8,1297.2 1967.5,1298.3 1968.2,1299.4 C1968.9,1300.5 1969.7,1301.7 1970.4,1302.8 C1971.1,1303.9 1971.8,1305.0 1972.6,1306.1 C1973.3,1307.2 1974.0,1308.4 1974.8,1309.5 C1975.5,1310.6 1976.3,1311.7 1977.0,1312.8 C1977.7,1313.9 1978.5,1315.0 1979.2,1316.1 C1980.0,1317.2 1980.7,1318.3 1981.4,1319.5 C1982.2,1320.6 1982.9,1321.7 1983.7,1322.8 C1984.4,1323.9 1985.2,1325.0 1985.9,1326.1 C1986.7,1327.2 1987.4,1328.3 1988.2,1329.4 C1988.9,1330.5 1989.7,1331.6 1990.5,1332.7 C1991.2,1333.7 1992.0,1334.8 1992.7,1335.9 C1993.5,1337.0 1994.3,1338.1 1995.0,1339.2 C1995.8,1340.3 1996.6,1341.4 1997.3,1342.5 C1998.1,1343.6 1998.9,1344.6 1999.6,1345.7 C2000.4,1346.8 2001.2,1347.9 2001.9,1349.0 C2002.7,1350.1 2003.5,1351.1 2004.3,1352.2 C2005.0,1353.3 2005.8,1354.4 2006.6,1355.4 C2007.4,1356.5 2008.2,1357.6 2009.0,1358.7 C2009.7,1359.7 2010.5,1360.8 2011.3,1361.9 C2012.1,1363.0 2012.9,1364.0 2013.7,1365.1 C2014.5,1366.2 2015.3,1367.2 2016.1,1368.3 C2016.9,1369.4 2017.7,1370.4 2018.5,1371.5 C2019.2,1372.5 2020.1,1373.6 2020.9,1374.7 C2021.7,1375.7 2022.5,1376.8 2023.3,1377.8 C2024.1,1378.9 2024.9,1379.9 2025.7,1381.0 C2026.5,1382.0 2027.3,1383.1 2028.1,1384.1 C2029.0,1385.2 2029.8,1386.2 2030.6,1387.3 C2031.4,1388.3 2032.2,1389.4 2033.1,1390.4 C2033.9,1391.4 2034.7,1392.5 2035.5,1393.5 C2036.4,1394.6 2037.2,1395.6 2038.0,1396.6 C2038.9,1397.7 2039.7,1398.7 2040.5,1399.7 C2041.4,1400.8 2042.2,1401.8 2043.1,1402.8 C2043.9,1403.8 2044.8,1404.9 2045.6,1405.9 C2046.5,1406.9 2047.3,1407.9 2048.2,1409.0 C2049.0,1410.0 2049.9,1411.0 2050.7,1412.0 C2051.6,1413.0 2052.4,1414.0 2053.3,1415.1 C2054.2,1416.1 2055.0,1417.1 2055.9,1418.1 C2056.8,1419.1 2057.6,1420.1 2058.5,1421.1 C2059.4,1422.1 2060.3,1423.1 2061.1,1424.1 C2062.0,1425.1 2062.9,1426.1 2063.8,1427.1 C2064.7,1428.1 2065.6,1429.1 2066.5,1430.1 C2067.3,1431.1 2068.2,1432.1 2069.1,1433.1 C2070.0,1434.1 2070.9,1435.1 2071.8,1436.1 C2072.7,1437.1 2073.6,1438.1 2074.5,1439.0 C2075.4,1440.0 2076.4,1441.0 2077.3,1442.0 C2078.2,1443.0 2079.1,1443.9 2080.0,1444.9 C2080.9,1445.9 2081.9,1446.9 2082.8,1447.8 C2083.7,1448.8 2084.6,1449.8 2085.6,1450.7 C2086.5,1451.7 2087.4,1452.6 2088.4,1453.6 C2089.3,1454.6 2090.3,1455.5 2091.2,1456.5 C2092.1,1457.4 2093.1,1458.4 2094.0,1459.3 C2095.0,1460.2 2095.9,1461.2 2096.9,1462.1 C2097.9,1463.0 2098.8,1464.0 2099.8,1464.9 C2100.8,1465.8 2101.7,1466.8 2102.7,1467.7 C2103.7,1468.6 2104.7,1469.5 2105.6,1470.4 C2106.6,1471.3 2107.6,1472.2 2108.6,1473.1 C2109.6,1474.0 2110.6,1474.9 2111.6,1475.8 C2112.6,1476.7 2113.6,1477.6 2114.6,1478.5 C2115.6,1479.3 2116.6,1480.2 2117.6,1481.1 C2118.6,1482.0 2119.6,1482.8 2120.6,1483.7 C2121.7,1484.5 2122.7,1485.4 2123.7,1486.2 C2124.7,1487.1 2125.8,1487.9 2126.8,1488.8 C2127.9,1489.6 2128.9,1490.4 2129.9,1491.3 C2131.0,1492.1 2132.0,1492.9 2133.1,1493.7 C2134.2,1494.5 2135.2,1495.3 2136.3,1496.1 C2137.3,1496.9 2138.4,1497.7 2139.5,1498.5 C2140.6,1499.3 2141.6,1500.0 2142.7,1500.8 C2143.8,1501.6 2144.9,1502.3 2146.0,1503.1 C2147.1,1503.8 2148.2,1504.6 2149.3,1505.3 C2150.4,1506.1 2151.5,1506.8 2152.6,1507.5 C2153.7,1508.3 2154.8,1509.0 2155.9,1509.7 C2157.1,1510.4 2158.2,1511.1 2159.3,1511.8 C2160.5,1512.5 2161.6,1513.2 2162.7,1513.8 C2163.9,1514.5 2165.0,1515.2 2166.2,1515.8 C2167.3,1516.5 2168.5,1517.2 2169.6,1517.8 C2170.8,1518.4 2172.0,1519.1 2173.1,1519.7 C2174.3,1520.4 2175.5,1521.0 2176.7,1521.6 C2177.8,1522.2 2179.0,1522.8 2180.2,1523.4 C2181.4,1524.0 2182.6,1524.6 2183.8,1525.2 C2185.0,1525.8 2186.2,1526.4 2187.4,1526.9 C2188.6,1527.5 2189.8,1528.1 2191.0,1528.6 C2192.2,1529.2 2193.4,1529.7 2194.6,1530.3 C2195.9,1530.8 2197.1,1531.4 2198.3,1531.9 C2199.5,1532.4 2200.8,1533.0 2202.0,1533.5 C2203.2,1534.0 2204.5,1534.5 2205.7,1535.0 C2206.9,1535.5 2208.2,1536.0 2209.4,1536.5 C2210.7,1537.0 2211.9,1537.5 2213.2,1538.0 C2214.4,1538.5 2215.7,1538.9 2216.9,1539.4 C2218.2,1539.9 2219.5,1540.3 2220.7,1540.8 C2222.0,1541.2 2223.3,1541.7 2224.5,1542.1 C2225.8,1542.5 2227.1,1543.0 2228.3,1543.4 C2229.6,1543.8 2230.9,1544.2 2232.2,1544.5 C2233.5,1544.9 2234.7,1545.3 2236.0,1545.6 C2237.3,1546.0 2238.6,1546.3 2239.9,1546.6 C2241.2,1546.9 2242.5,1547.2 2243.8,1547.4 C2245.1,1547.7 2246.4,1547.9 2247.7,1548.1 C2249.0,1548.3 2250.3,1548.4 2251.6,1548.6 C2252.9,1548.7 2254.7,1548.8 2255.5,1548.9 C2256.2,1549.0 2255.9,1548.9 2256.0,1548.9" stroke="#000000" stroke-width="8.8"/>
</g>
<g id="axes">
<rect class="ax" x="178.5" y="36.3" width="2081.6" height="1677.1"/>
<line class="tk" x1="179.0" y1="1713.4" x2="179.0" y2="1730.4"/>
<line class="tk" x1="339.1" y1="1713.4" x2="339.1" y2="1746.4"/>
<line class="tk" x1="499.2" y1="1713.4" x2="499.2" y2="1730.4"/>
<line class="tk" x1="659.3" y1="1713.4" x2="659.3" y2="1746.4"/>
<line class="tk" x1="819.4" y1="1713.4" x2="819.4" y2="1730.4"/>
<line class="tk" x1="979.5" y1="1713.4" x2="979.5" y2="1746.4"/>
<line class="tk" x1="1139.6" y1="1713.4" x2="1139.6" y2="1730.4"/>
<line class="tk" x1="1299.7" y1="1713.4" x2="1299.7" y2="1746.4"/>
<line class="tk" x1="1459.8" y1="1713.4" x2="1459.8" y2="1730.4"/>
<line class="tk" x1="1619.9" y1="1713.4" x2="1619.9" y2="1746.4"/>
<line class="tk" x1="1780.0" y1="1713.4" x2="1780.0" y2="1730.4"/>
<line class="tk" x1="1940.1" y1="1713.4" x2="1940.1" y2="1746.4"/>
<line class="tk" x1="2100.2" y1="1713.4" x2="2100.2" y2="1730.4"/>
<line class="tk" x1="2260.3" y1="1713.4" x2="2260.3" y2="1746.4"/>
<line class="tk" x1="386.7" y1="36.3" x2="386.7" y2="53.3"/>
<line class="tk" x1="594.8" y1="36.3" x2="594.8" y2="69.3"/>
<line class="tk" x1="803.0" y1="36.3" x2="803.0" y2="53.3"/>
<line class="tk" x1="1011.1" y1="36.3" x2="1011.1" y2="69.3"/>
<line class="tk" x1="1219.3" y1="36.3" x2="1219.3" y2="53.3"/>
<line class="tk" x1="1427.5" y1="36.3" x2="1427.5" y2="69.3"/>
<line class="tk" x1="1635.6" y1="36.3" x2="1635.6" y2="53.3"/>
<line class="tk" x1="1843.8" y1="36.3" x2="1843.8" y2="69.3"/>
<line class="tk" x1="2051.9" y1="36.3" x2="2051.9" y2="53.3"/>
<line class="tk" x1="178.5" y1="36.3" x2="161.5" y2="36.3"/>
<line class="tk" x1="178.5" y1="204.0" x2="145.5" y2="204.0"/>
<line class="tk" x1="2260.1" y1="204.0" x2="2243.1" y2="204.0"/>
<line class="tk" x1="178.5" y1="371.7" x2="161.5" y2="371.7"/>
<line class="tk" x1="2260.1" y1="371.7" x2="2227.1" y2="371.7"/>
<line class="tk" x1="178.5" y1="539.4" x2="145.5" y2="539.4"/>
<line class="tk" x1="2260.1" y1="539.4" x2="2243.1" y2="539.4"/>
<line class="tk" x1="178.5" y1="707.1" x2="161.5" y2="707.1"/>
<line class="tk" x1="2260.1" y1="707.1" x2="2227.1" y2="707.1"/>
<line class="tk" x1="178.5" y1="874.8" x2="145.5" y2="874.8"/>
<line class="tk" x1="2260.1" y1="874.8" x2="2243.1" y2="874.8"/>
<line class="tk" x1="178.5" y1="1042.6" x2="161.5" y2="1042.6"/>
<line class="tk" x1="2260.1" y1="1042.6" x2="2227.1" y2="1042.6"/>
<line class="tk" x1="178.5" y1="1210.3" x2="145.5" y2="1210.3"/>
<line class="tk" x1="2260.1" y1="1210.3" x2="2243.1" y2="1210.3"/>
<line class="tk" x1="178.5" y1="1378.0" x2="161.5" y2="1378.0"/>
<line class="tk" x1="2260.1" y1="1378.0" x2="2227.1" y2="1378.0"/>
<line class="tk" x1="178.5" y1="1545.7" x2="145.5" y2="1545.7"/>
<line class="tk" x1="2260.1" y1="1545.7" x2="2243.1" y2="1545.7"/>
<line class="tk" x1="178.5" y1="1713.4" x2="161.5" y2="1713.4"/>
</g>
<g id="ticklabels">
<text id="t1700" font-size="65" text-anchor="middle" transform="translate(337.60,1818.60) scale(1.0000,1.0410)">1700</text>
<text id="t1680" font-size="65" text-anchor="middle" transform="translate(657.80,1818.60) scale(1.0000,1.0410)">1680</text>
<text id="t1660" font-size="65" text-anchor="middle" transform="translate(978.00,1818.60) scale(1.0000,1.0410)">1660</text>
<text id="t1640" font-size="65" text-anchor="middle" transform="translate(1298.20,1818.60) scale(1.0000,1.0410)">1640</text>
<text id="t1620" font-size="65" text-anchor="middle" transform="translate(1618.40,1818.60) scale(1.0000,1.0410)">1620</text>
<text id="t1600" font-size="65" text-anchor="middle" transform="translate(1938.60,1818.60) scale(1.0000,1.0410)">1600</text>
<text id="t1580" font-size="65" text-anchor="middle" transform="translate(2258.80,1818.60) scale(1.0000,1.0410)">1580</text>
</g>
<g id="titles">
<text id="xt" font-size="81.5" text-anchor="start" transform="translate(935.00,1954.80)">Wavenumber (cm<tspan font-size="48" dx="-1" dy="-44">-1</tspan><tspan dx="3" dy="44">)</tspan></text>
<text id="yt" font-size="80.5" text-anchor="start" transform="translate(82.30,1013.00) rotate(-90)">Absorbance</text>
</g>
<g id="legend">
<line x1="264.5" y1="158.3" x2="378.5" y2="158.3" stroke="#00ff00" stroke-width="6.3" stroke-linecap="round"/>
<text id="lg0" font-size="51" text-anchor="start" transform="translate(393.50,175.00)">ß-Sheet</text>
<line x1="264.5" y1="222.60000000000002" x2="378.5" y2="222.60000000000002" stroke="#ff0000" stroke-width="6.3" stroke-linecap="round"/>
<text id="lg1" font-size="51" text-anchor="start" transform="translate(393.50,239.30)"><tspan font-size="44" dx="1.0">α</tspan><tspan dx="1.9">-helix</tspan></text>
<line x1="264.5" y1="285.1" x2="378.5" y2="285.1" stroke="#0000ff" stroke-width="6.3" stroke-linecap="round"/>
<text id="lg2" font-size="51" text-anchor="start" transform="translate(393.50,301.80)">ß-turns</text>
<line x1="264.5" y1="348.0" x2="378.5" y2="348.0" stroke="#ff00ff" stroke-width="6.3" stroke-linecap="round"/>
<text id="lg3" font-size="51" text-anchor="start" transform="translate(393.50,364.70)">Cumulative Fit Peak</text>
<line x1="264.5" y1="410.90000000000003" x2="378.5" y2="410.90000000000003" stroke="#000000" stroke-width="8.8" stroke-linecap="round"/>
<text id="lg4" font-size="51" text-anchor="start" transform="translate(393.50,427.60)">Subtracted Data</text>
</g>
<g id="annot">
<text id="a1652" font-size="51" text-anchor="start" transform="translate(1121.60,322.30) rotate(-90) scale(1.0000,1.0500)">1652</text>
<text id="a1634" font-size="51" text-anchor="start" transform="translate(1408.60,226.80) rotate(-90) scale(1.0000,1.0500)">1634</text>
<text id="a1683" font-size="51" text-anchor="start" transform="translate(626.70,1084.30) rotate(-90) scale(1.0000,1.0500)">1683</text>
<text id="p43" font-size="52.6" text-anchor="start" transform="translate(962.40,777.40)">43.35%</text>
<text id="p51" font-size="50.3" text-anchor="start" transform="translate(1406.50,647.40)">51.25%</text>
<text id="p5" font-size="51.4" text-anchor="start" transform="translate(616.50,1415.20)">5.40%</text>
</g>
</svg>
</body>
</html>
